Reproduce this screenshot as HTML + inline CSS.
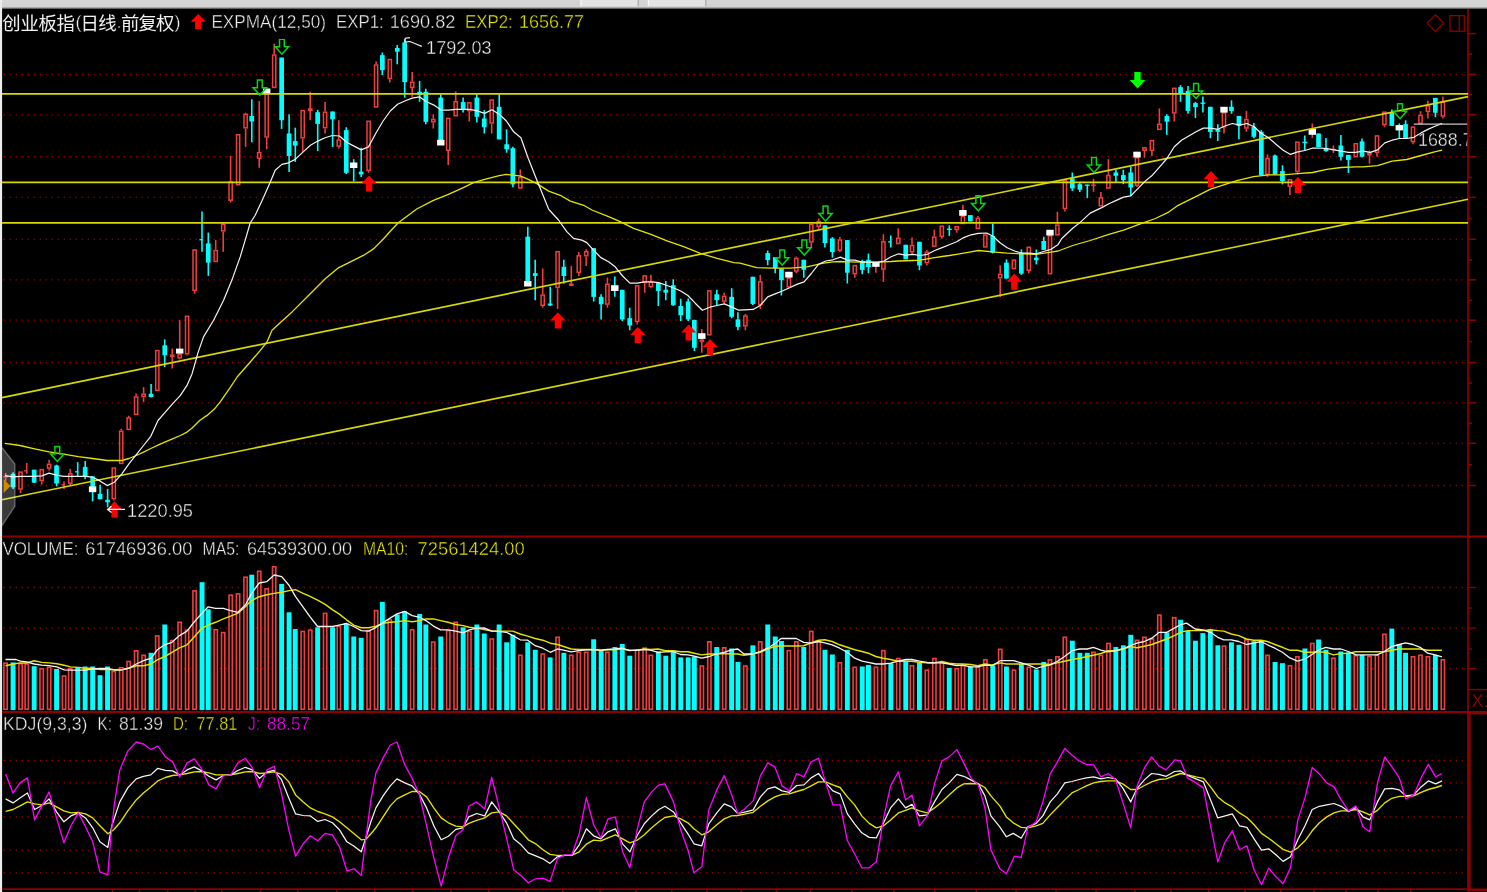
<!DOCTYPE html>
<html><head><meta charset="utf-8"><title>chart</title>
<style>html,body{margin:0;padding:0;background:#000;overflow:hidden;width:1487px;height:892px}svg{display:block;font-family:"Liberation Sans",sans-serif}</style>
</head><body>
<div style="width:1487px;height:892px;overflow:hidden;background:#000"><svg style="filter:blur(0.35px);will-change:transform" width="1487" height="892" viewBox="0 0 1487 892" shape-rendering="geometricPrecision">
<rect x="0" y="0" width="1487" height="892" fill="#000"/>
<defs><linearGradient id="tb" x1="0" y1="0" x2="0" y2="1"><stop offset="0" stop-color="#d6d6d6"/><stop offset="0.72" stop-color="#d2d2d2"/><stop offset="0.86" stop-color="#777"/><stop offset="1" stop-color="#000"/></linearGradient></defs>
<rect x="0" y="0" width="1487" height="9.6" fill="url(#tb)"/>
<rect x="581" y="0" width="57" height="6.2" fill="#e4e4e4"/><rect x="648.5" y="0" width="57" height="6.2" fill="#e4e4e4"/>
<rect x="580.3" y="0" width="1.2" height="6.2" fill="#f8f8f8"/><rect x="637.6" y="0" width="1.2" height="6.2" fill="#a8a8a8"/><rect x="647.8" y="0" width="1.2" height="6.2" fill="#f8f8f8"/><rect x="705.2" y="0" width="1.2" height="6.2" fill="#a8a8a8"/>
<rect x="0" y="0" width="2.1" height="892" fill="#ececec"/>
<line x1="3.6" y1="74.3" x2="1463" y2="74.3" stroke="#920000" stroke-width="1.3" stroke-dasharray="1.4 4.6"/>
<line x1="3.6" y1="114.8" x2="1463" y2="114.8" stroke="#920000" stroke-width="1.3" stroke-dasharray="1.4 4.6"/>
<line x1="3.6" y1="156.7" x2="1463" y2="156.7" stroke="#920000" stroke-width="1.3" stroke-dasharray="1.4 4.6"/>
<line x1="3.6" y1="197.4" x2="1463" y2="197.4" stroke="#920000" stroke-width="1.3" stroke-dasharray="1.4 4.6"/>
<line x1="3.6" y1="239.3" x2="1463" y2="239.3" stroke="#920000" stroke-width="1.3" stroke-dasharray="1.4 4.6"/>
<line x1="3.6" y1="279.8" x2="1463" y2="279.8" stroke="#920000" stroke-width="1.3" stroke-dasharray="1.4 4.6"/>
<line x1="3.6" y1="320.2" x2="1463" y2="320.2" stroke="#920000" stroke-width="1.3" stroke-dasharray="1.4 4.6"/>
<line x1="3.6" y1="362.5" x2="1463" y2="362.5" stroke="#920000" stroke-width="1.3" stroke-dasharray="1.4 4.6"/>
<line x1="3.6" y1="402.9" x2="1463" y2="402.9" stroke="#920000" stroke-width="1.3" stroke-dasharray="1.4 4.6"/>
<line x1="3.6" y1="443.3" x2="1463" y2="443.3" stroke="#920000" stroke-width="1.3" stroke-dasharray="1.4 4.6"/>
<line x1="3.6" y1="485.5" x2="1463" y2="485.5" stroke="#920000" stroke-width="1.3" stroke-dasharray="1.4 4.6"/>
<line x1="3.6" y1="587.5" x2="1463" y2="587.5" stroke="#920000" stroke-width="1.3" stroke-dasharray="1.4 4.6"/>
<line x1="3.6" y1="628.1" x2="1463" y2="628.1" stroke="#920000" stroke-width="1.3" stroke-dasharray="1.4 4.6"/>
<line x1="3.6" y1="668.5" x2="1463" y2="668.5" stroke="#920000" stroke-width="1.3" stroke-dasharray="1.4 4.6"/>
<line x1="3.6" y1="760.3" x2="1463" y2="760.3" stroke="#920000" stroke-width="1.3" stroke-dasharray="1.4 4.6"/>
<line x1="3.6" y1="782.9" x2="1463" y2="782.9" stroke="#920000" stroke-width="1.3" stroke-dasharray="1.4 4.6"/>
<line x1="3.6" y1="816.9" x2="1463" y2="816.9" stroke="#920000" stroke-width="1.3" stroke-dasharray="1.4 4.6"/>
<line x1="3.6" y1="850.2" x2="1463" y2="850.2" stroke="#920000" stroke-width="1.3" stroke-dasharray="1.4 4.6"/>
<line x1="3.6" y1="872.8" x2="1463" y2="872.8" stroke="#920000" stroke-width="1.3" stroke-dasharray="1.4 4.6"/>
<line x1="1468" y1="9" x2="1468" y2="892" stroke="#840000" stroke-width="1.8"/>
<line x1="2" y1="536.5" x2="1487" y2="536.5" stroke="#8c0000" stroke-width="1.8"/>
<line x1="2" y1="712" x2="1487" y2="712" stroke="#8c0000" stroke-width="1.8"/>
<line x1="2" y1="889.2" x2="1468" y2="889.2" stroke="#8c0000" stroke-width="1.8"/>
<line x1="1468" y1="33.6" x2="1476.2" y2="33.6" stroke="#8c0000" stroke-width="1.5"/>
<line x1="1468" y1="54.2" x2="1472.2" y2="54.2" stroke="#8c0000" stroke-width="1.5"/>
<line x1="1468" y1="74.3" x2="1476.2" y2="74.3" stroke="#8c0000" stroke-width="1.5"/>
<line x1="1468" y1="94.8" x2="1472.2" y2="94.8" stroke="#8c0000" stroke-width="1.5"/>
<line x1="1468" y1="114.8" x2="1476.2" y2="114.8" stroke="#8c0000" stroke-width="1.5"/>
<line x1="1468" y1="136.1" x2="1472.2" y2="136.1" stroke="#8c0000" stroke-width="1.5"/>
<line x1="1468" y1="156.7" x2="1476.2" y2="156.7" stroke="#8c0000" stroke-width="1.5"/>
<line x1="1468" y1="177.4" x2="1472.2" y2="177.4" stroke="#8c0000" stroke-width="1.5"/>
<line x1="1468" y1="197.4" x2="1476.2" y2="197.4" stroke="#8c0000" stroke-width="1.5"/>
<line x1="1468" y1="218.7" x2="1472.2" y2="218.7" stroke="#8c0000" stroke-width="1.5"/>
<line x1="1468" y1="239.3" x2="1476.2" y2="239.3" stroke="#8c0000" stroke-width="1.5"/>
<line x1="1468" y1="259.9" x2="1472.2" y2="259.9" stroke="#8c0000" stroke-width="1.5"/>
<line x1="1468" y1="279.8" x2="1476.2" y2="279.8" stroke="#8c0000" stroke-width="1.5"/>
<line x1="1468" y1="300.3" x2="1472.2" y2="300.3" stroke="#8c0000" stroke-width="1.5"/>
<line x1="1468" y1="320.2" x2="1476.2" y2="320.2" stroke="#8c0000" stroke-width="1.5"/>
<line x1="1468" y1="341.7" x2="1472.2" y2="341.7" stroke="#8c0000" stroke-width="1.5"/>
<line x1="1468" y1="362.5" x2="1476.2" y2="362.5" stroke="#8c0000" stroke-width="1.5"/>
<line x1="1468" y1="383" x2="1472.2" y2="383" stroke="#8c0000" stroke-width="1.5"/>
<line x1="1468" y1="402.9" x2="1476.2" y2="402.9" stroke="#8c0000" stroke-width="1.5"/>
<line x1="1468" y1="423.4" x2="1472.2" y2="423.4" stroke="#8c0000" stroke-width="1.5"/>
<line x1="1468" y1="443.3" x2="1476.2" y2="443.3" stroke="#8c0000" stroke-width="1.5"/>
<line x1="1468" y1="464.7" x2="1472.2" y2="464.7" stroke="#8c0000" stroke-width="1.5"/>
<line x1="1468" y1="485.5" x2="1476.2" y2="485.5" stroke="#8c0000" stroke-width="1.5"/>
<line x1="1468" y1="587.5" x2="1476" y2="587.5" stroke="#8c0000" stroke-width="1.3"/>
<line x1="1468" y1="608" x2="1472" y2="608" stroke="#8c0000" stroke-width="1.3"/>
<line x1="1468" y1="628.1" x2="1476" y2="628.1" stroke="#8c0000" stroke-width="1.3"/>
<line x1="1468" y1="649" x2="1472" y2="649" stroke="#8c0000" stroke-width="1.3"/>
<line x1="1468" y1="668.5" x2="1476" y2="668.5" stroke="#8c0000" stroke-width="1.3"/>
<line x1="1468" y1="689.6" x2="1487" y2="689.6" stroke="#8c0000" stroke-width="1.4"/>
<rect x="1469.4" y="713.1" width="22" height="176.6" fill="none" stroke="#8c0000" stroke-width="2.5"/>
<line x1="112.4" y1="889" x2="112.4" y2="892" stroke="#8c0000" stroke-width="1.3"/>
<line x1="139.4" y1="889" x2="139.4" y2="892" stroke="#8c0000" stroke-width="1.3"/>
<line x1="167.8" y1="889" x2="167.8" y2="892" stroke="#8c0000" stroke-width="1.3"/>
<line x1="195.1" y1="889" x2="195.1" y2="892" stroke="#8c0000" stroke-width="1.3"/>
<line x1="221.8" y1="889" x2="221.8" y2="892" stroke="#8c0000" stroke-width="1.3"/>
<line x1="260.2" y1="889" x2="260.2" y2="892" stroke="#8c0000" stroke-width="1.3"/>
<line x1="297.9" y1="889" x2="297.9" y2="892" stroke="#8c0000" stroke-width="1.3"/>
<line x1="336.9" y1="889" x2="336.9" y2="892" stroke="#8c0000" stroke-width="1.3"/>
<line x1="374.6" y1="889" x2="374.6" y2="892" stroke="#8c0000" stroke-width="1.3"/>
<line x1="412.6" y1="889" x2="412.6" y2="892" stroke="#8c0000" stroke-width="1.3"/>
<line x1="451" y1="889" x2="451" y2="892" stroke="#8c0000" stroke-width="1.3"/>
<line x1="488.7" y1="889" x2="488.7" y2="892" stroke="#8c0000" stroke-width="1.3"/>
<line x1="526" y1="889" x2="526" y2="892" stroke="#8c0000" stroke-width="1.3"/>
<line x1="562.7" y1="889" x2="562.7" y2="892" stroke="#8c0000" stroke-width="1.3"/>
<line x1="600" y1="889" x2="600" y2="892" stroke="#8c0000" stroke-width="1.3"/>
<line x1="636" y1="889" x2="636" y2="892" stroke="#8c0000" stroke-width="1.3"/>
<line x1="671.8" y1="889" x2="671.8" y2="892" stroke="#8c0000" stroke-width="1.3"/>
<line x1="706.8" y1="889" x2="706.8" y2="892" stroke="#8c0000" stroke-width="1.3"/>
<line x1="741.2" y1="889" x2="741.2" y2="892" stroke="#8c0000" stroke-width="1.3"/>
<line x1="776.2" y1="889" x2="776.2" y2="892" stroke="#8c0000" stroke-width="1.3"/>
<line x1="810.2" y1="889" x2="810.2" y2="892" stroke="#8c0000" stroke-width="1.3"/>
<line x1="851.9" y1="889" x2="851.9" y2="892" stroke="#8c0000" stroke-width="1.3"/>
<line x1="893.9" y1="889" x2="893.9" y2="892" stroke="#8c0000" stroke-width="1.3"/>
<line x1="934.6" y1="889" x2="934.6" y2="892" stroke="#8c0000" stroke-width="1.3"/>
<line x1="976.3" y1="889" x2="976.3" y2="892" stroke="#8c0000" stroke-width="1.3"/>
<line x1="1016" y1="889" x2="1016" y2="892" stroke="#8c0000" stroke-width="1.3"/>
<line x1="1056" y1="889" x2="1056" y2="892" stroke="#8c0000" stroke-width="1.3"/>
<line x1="1096" y1="889" x2="1096" y2="892" stroke="#8c0000" stroke-width="1.3"/>
<line x1="1135" y1="889" x2="1135" y2="892" stroke="#8c0000" stroke-width="1.3"/>
<line x1="1171" y1="889" x2="1171" y2="892" stroke="#8c0000" stroke-width="1.3"/>
<line x1="1208.5" y1="889" x2="1208.5" y2="892" stroke="#8c0000" stroke-width="1.3"/>
<line x1="1245" y1="889" x2="1245" y2="892" stroke="#8c0000" stroke-width="1.3"/>
<line x1="1280.5" y1="889" x2="1280.5" y2="892" stroke="#8c0000" stroke-width="1.3"/>
<line x1="1314" y1="889" x2="1314" y2="892" stroke="#8c0000" stroke-width="1.3"/>
<line x1="1346" y1="889" x2="1346" y2="892" stroke="#8c0000" stroke-width="1.3"/>
<line x1="1378" y1="889" x2="1378" y2="892" stroke="#8c0000" stroke-width="1.3"/>
<line x1="1410.6" y1="889" x2="1410.6" y2="892" stroke="#8c0000" stroke-width="1.3"/>
<path d="M1435.4 14.8 L1443.6 23.1 L1435.4 31.4 L1427.2 23.1 Z" fill="none" stroke="#8c0000" stroke-width="1.3"/>
<rect x="1450" y="15.6" width="14.3" height="15.6" fill="none" stroke="#8c0000" stroke-width="1.3"/>
<line x1="1459.3" y1="15.6" x2="1459.3" y2="31.2" stroke="#8c0000" stroke-width="1.3"/>
<line x1="5.6" y1="473" x2="5.6" y2="476" stroke="#f03e3e" stroke-width="1.6"/>
<line x1="5.6" y1="477.5" x2="5.6" y2="481" stroke="#f03e3e" stroke-width="1.6"/>
<rect x="3.2" y="476" width="4.7" height="1.5" fill="#f03e3e"/>
<line x1="13.1" y1="472.2" x2="13.1" y2="488.9" stroke="#00ffff" stroke-width="1.6"/>
<rect x="10.7" y="473.9" width="4.7" height="13.4" fill="#00ffff"/>
<line x1="20.5" y1="489.8" x2="20.5" y2="493.1" stroke="#f03e3e" stroke-width="1.6"/>
<rect x="18.9" y="472.1" width="3.2" height="16.9" fill="#000" stroke="#f03e3e" stroke-width="1.5"/>
<line x1="26.7" y1="463" x2="26.7" y2="473.9" stroke="#f03e3e" stroke-width="1.6"/>
<line x1="24.1" y1="470.8" x2="27.3" y2="470.8" stroke="#f03e3e" stroke-width="1.4"/>
<line x1="34.2" y1="469.7" x2="34.2" y2="483.1" stroke="#00ffff" stroke-width="1.6"/>
<rect x="31.8" y="469.7" width="4.7" height="12.9" fill="#00ffff"/>
<line x1="41.7" y1="481.4" x2="41.7" y2="484.7" stroke="#f03e3e" stroke-width="1.6"/>
<rect x="40.1" y="469.6" width="3.2" height="11" fill="#000" stroke="#f03e3e" stroke-width="1.5"/>
<line x1="49.1" y1="459.7" x2="49.1" y2="463.5" stroke="#f03e3e" stroke-width="1.6"/>
<line x1="49.1" y1="468.9" x2="49.1" y2="470.6" stroke="#f03e3e" stroke-width="1.6"/>
<rect x="47.5" y="464.3" width="3.2" height="3.8" fill="#000" stroke="#f03e3e" stroke-width="1.5"/>
<line x1="56.6" y1="464.7" x2="56.6" y2="486.4" stroke="#00ffff" stroke-width="1.6"/>
<rect x="54.2" y="465.5" width="4.7" height="18" fill="#00ffff"/>
<line x1="64" y1="481.4" x2="64" y2="488.9" stroke="#f03e3e" stroke-width="1.6"/>
<line x1="61.4" y1="484.8" x2="64.6" y2="484.8" stroke="#f03e3e" stroke-width="1.4"/>
<line x1="70.3" y1="468.9" x2="70.3" y2="473.1" stroke="#f03e3e" stroke-width="1.6"/>
<line x1="70.3" y1="483.9" x2="70.3" y2="485.6" stroke="#f03e3e" stroke-width="1.6"/>
<rect x="68.7" y="473.8" width="3.2" height="9.4" fill="#000" stroke="#f03e3e" stroke-width="1.5"/>
<line x1="77.7" y1="462.2" x2="77.7" y2="476.4" stroke="#00ffff" stroke-width="1.6"/>
<line x1="75.1" y1="471.8" x2="78.3" y2="471.8" stroke="#00ffff" stroke-width="1.4"/>
<line x1="85.2" y1="460.9" x2="85.2" y2="478.9" stroke="#00ffff" stroke-width="1.6"/>
<rect x="82.8" y="466.9" width="4.7" height="9.5" fill="#00ffff"/>
<line x1="92.6" y1="476.4" x2="92.6" y2="501.4" stroke="#00ffff" stroke-width="1.6"/>
<rect x="90.3" y="476.4" width="4.7" height="12.5" fill="#00ffff"/>
<line x1="100.1" y1="484.7" x2="100.1" y2="499.3" stroke="#00ffff" stroke-width="1.6"/>
<rect x="97.7" y="493.9" width="4.7" height="5.3" fill="#00ffff"/>
<line x1="107.6" y1="488.9" x2="107.6" y2="507.3" stroke="#00ffff" stroke-width="1.6"/>
<rect x="105.2" y="499.8" width="4.7" height="2.5" fill="#00ffff"/>
<line x1="113.8" y1="499.3" x2="113.8" y2="500.6" stroke="#f03e3e" stroke-width="1.6"/>
<rect x="112.2" y="468" width="3.2" height="30.6" fill="#000" stroke="#f03e3e" stroke-width="1.5"/>
<line x1="121.2" y1="428.8" x2="121.2" y2="430.5" stroke="#f03e3e" stroke-width="1.6"/>
<rect x="119.6" y="431.2" width="3.2" height="32.2" fill="#000" stroke="#f03e3e" stroke-width="1.5"/>
<line x1="128.7" y1="415.8" x2="128.7" y2="417.1" stroke="#f03e3e" stroke-width="1.6"/>
<rect x="127.1" y="417.9" width="3.2" height="11.5" fill="#000" stroke="#f03e3e" stroke-width="1.5"/>
<line x1="136.1" y1="393.4" x2="136.1" y2="396.2" stroke="#f03e3e" stroke-width="1.6"/>
<rect x="134.5" y="397" width="3.2" height="17.4" fill="#000" stroke="#f03e3e" stroke-width="1.5"/>
<line x1="143.6" y1="387.1" x2="143.6" y2="393.4" stroke="#f03e3e" stroke-width="1.6"/>
<line x1="143.6" y1="397.4" x2="143.6" y2="402.1" stroke="#f03e3e" stroke-width="1.6"/>
<rect x="142" y="394.1" width="3.2" height="2.5" fill="#000" stroke="#f03e3e" stroke-width="1.5"/>
<line x1="151.1" y1="384" x2="151.1" y2="397.4" stroke="#00ffff" stroke-width="1.6"/>
<rect x="148.7" y="393.7" width="4.7" height="3.3" fill="#00ffff"/>
<rect x="155.7" y="350.6" width="3.2" height="39.8" fill="#000" stroke="#f03e3e" stroke-width="1.5"/>
<line x1="164.7" y1="339.4" x2="164.7" y2="367" stroke="#00ffff" stroke-width="1.6"/>
<rect x="162.4" y="345.3" width="4.7" height="10" fill="#00ffff"/>
<line x1="172.2" y1="348.6" x2="172.2" y2="354.4" stroke="#f03e3e" stroke-width="1.6"/>
<line x1="172.2" y1="356.9" x2="172.2" y2="368.6" stroke="#f03e3e" stroke-width="1.6"/>
<rect x="169.9" y="354.4" width="4.7" height="2.5" fill="#f03e3e"/>
<line x1="179.7" y1="320.2" x2="179.7" y2="353.6" stroke="#f03e3e" stroke-width="1.6"/>
<line x1="179.7" y1="358.6" x2="179.7" y2="359.4" stroke="#f03e3e" stroke-width="1.6"/>
<rect x="178.1" y="354.4" width="3.2" height="3.5" fill="#000" stroke="#f03e3e" stroke-width="1.5"/>
<line x1="187.1" y1="354.4" x2="187.1" y2="355.6" stroke="#f03e3e" stroke-width="1.6"/>
<rect x="185.5" y="316.3" width="3.2" height="37.4" fill="#000" stroke="#f03e3e" stroke-width="1.5"/>
<line x1="194.6" y1="291" x2="194.6" y2="293.8" stroke="#f03e3e" stroke-width="1.6"/>
<rect x="193" y="250" width="3.2" height="40.3" fill="#000" stroke="#f03e3e" stroke-width="1.5"/>
<line x1="202" y1="211.5" x2="202" y2="251.8" stroke="#00ffff" stroke-width="1.6"/>
<line x1="199.4" y1="239.7" x2="202.6" y2="239.7" stroke="#00ffff" stroke-width="1.4"/>
<line x1="208.3" y1="232.5" x2="208.3" y2="275.9" stroke="#00ffff" stroke-width="1.6"/>
<rect x="205.9" y="243.4" width="4.7" height="19.2" fill="#00ffff"/>
<line x1="215.7" y1="240" x2="215.7" y2="249.7" stroke="#f03e3e" stroke-width="1.6"/>
<rect x="214.1" y="250.5" width="3.2" height="10.9" fill="#000" stroke="#f03e3e" stroke-width="1.5"/>
<line x1="223.2" y1="223" x2="223.2" y2="223.7" stroke="#f03e3e" stroke-width="1.6"/>
<line x1="223.2" y1="231.7" x2="223.2" y2="251.7" stroke="#f03e3e" stroke-width="1.6"/>
<rect x="221.6" y="224.4" width="3.2" height="6.5" fill="#000" stroke="#f03e3e" stroke-width="1.5"/>
<line x1="230.6" y1="155.9" x2="230.6" y2="180.9" stroke="#f03e3e" stroke-width="1.6"/>
<line x1="230.6" y1="201" x2="230.6" y2="202.6" stroke="#f03e3e" stroke-width="1.6"/>
<rect x="229" y="181.7" width="3.2" height="18.5" fill="#000" stroke="#f03e3e" stroke-width="1.5"/>
<rect x="236.5" y="134.7" width="3.2" height="50" fill="#000" stroke="#f03e3e" stroke-width="1.5"/>
<line x1="245.6" y1="112.7" x2="245.6" y2="113.5" stroke="#f03e3e" stroke-width="1.6"/>
<line x1="245.6" y1="128.5" x2="245.6" y2="146.9" stroke="#f03e3e" stroke-width="1.6"/>
<rect x="244" y="114.3" width="3.2" height="13.5" fill="#000" stroke="#f03e3e" stroke-width="1.5"/>
<line x1="251.8" y1="99.3" x2="251.8" y2="142.2" stroke="#00ffff" stroke-width="1.6"/>
<rect x="249.4" y="116" width="4.7" height="5.5" fill="#00ffff"/>
<line x1="259.2" y1="101" x2="259.2" y2="151.9" stroke="#f03e3e" stroke-width="1.6"/>
<line x1="259.2" y1="158.9" x2="259.2" y2="167.8" stroke="#f03e3e" stroke-width="1.6"/>
<rect x="257.6" y="152.7" width="3.2" height="5.5" fill="#000" stroke="#f03e3e" stroke-width="1.5"/>
<line x1="266.7" y1="137.7" x2="266.7" y2="149.4" stroke="#f03e3e" stroke-width="1.6"/>
<rect x="265.1" y="94.2" width="3.2" height="42.8" fill="#000" stroke="#f03e3e" stroke-width="1.5"/>
<line x1="274.2" y1="43.7" x2="274.2" y2="54.2" stroke="#f03e3e" stroke-width="1.6"/>
<rect x="272.6" y="55" width="3.2" height="32.4" fill="#000" stroke="#f03e3e" stroke-width="1.5"/>
<line x1="281.6" y1="57.6" x2="281.6" y2="128.9" stroke="#00ffff" stroke-width="1.6"/>
<rect x="279.3" y="57.6" width="4.7" height="62.6" fill="#00ffff"/>
<line x1="289.1" y1="114.3" x2="289.1" y2="172" stroke="#00ffff" stroke-width="1.6"/>
<rect x="286.7" y="133.5" width="4.7" height="22.5" fill="#00ffff"/>
<line x1="295.3" y1="127.7" x2="295.3" y2="161.9" stroke="#00ffff" stroke-width="1.6"/>
<rect x="292.9" y="141.1" width="4.7" height="4.5" fill="#00ffff"/>
<line x1="302.7" y1="138.6" x2="302.7" y2="151.9" stroke="#f03e3e" stroke-width="1.6"/>
<rect x="301.1" y="110.6" width="3.2" height="27.2" fill="#000" stroke="#f03e3e" stroke-width="1.5"/>
<line x1="310.2" y1="91.8" x2="310.2" y2="120.2" stroke="#f03e3e" stroke-width="1.6"/>
<rect x="307.9" y="108.2" width="4.7" height="2.8" fill="#f03e3e"/>
<line x1="317.7" y1="109.8" x2="317.7" y2="151.1" stroke="#00ffff" stroke-width="1.6"/>
<rect x="315.3" y="112.2" width="4.7" height="11.7" fill="#00ffff"/>
<line x1="325.1" y1="102.1" x2="325.1" y2="111.5" stroke="#f03e3e" stroke-width="1.6"/>
<line x1="325.1" y1="128.5" x2="325.1" y2="133.5" stroke="#f03e3e" stroke-width="1.6"/>
<rect x="323.5" y="112.2" width="3.2" height="15.5" fill="#000" stroke="#f03e3e" stroke-width="1.5"/>
<line x1="332.6" y1="111.5" x2="332.6" y2="146.9" stroke="#00ffff" stroke-width="1.6"/>
<rect x="330.2" y="111.5" width="4.7" height="7.8" fill="#00ffff"/>
<line x1="338.8" y1="120.2" x2="338.8" y2="139.4" stroke="#f03e3e" stroke-width="1.6"/>
<line x1="338.8" y1="146.9" x2="338.8" y2="148.6" stroke="#f03e3e" stroke-width="1.6"/>
<rect x="337.2" y="140.1" width="3.2" height="6" fill="#000" stroke="#f03e3e" stroke-width="1.5"/>
<line x1="346.3" y1="127.2" x2="346.3" y2="174" stroke="#00ffff" stroke-width="1.6"/>
<rect x="343.9" y="130.2" width="4.7" height="42.6" fill="#00ffff"/>
<line x1="353.7" y1="159.2" x2="353.7" y2="181.4" stroke="#00ffff" stroke-width="1.6"/>
<rect x="351.4" y="163.4" width="4.7" height="4.2" fill="#00ffff"/>
<line x1="361.2" y1="147.7" x2="361.2" y2="177" stroke="#00ffff" stroke-width="1.6"/>
<rect x="358.8" y="171.6" width="4.7" height="2.8" fill="#00ffff"/>
<line x1="368.6" y1="171.1" x2="368.6" y2="172.8" stroke="#f03e3e" stroke-width="1.6"/>
<rect x="367" y="121.3" width="3.2" height="49.1" fill="#000" stroke="#f03e3e" stroke-width="1.5"/>
<line x1="376.1" y1="61.4" x2="376.1" y2="64.2" stroke="#f03e3e" stroke-width="1.6"/>
<rect x="374.5" y="65" width="3.2" height="41.9" fill="#000" stroke="#f03e3e" stroke-width="1.5"/>
<line x1="382.3" y1="52.5" x2="382.3" y2="75.1" stroke="#00ffff" stroke-width="1.6"/>
<rect x="380" y="55.1" width="4.7" height="15" fill="#00ffff"/>
<line x1="389.8" y1="79.3" x2="389.8" y2="82.6" stroke="#f03e3e" stroke-width="1.6"/>
<rect x="388.2" y="59.5" width="3.2" height="19" fill="#000" stroke="#f03e3e" stroke-width="1.5"/>
<line x1="397.2" y1="45" x2="397.2" y2="64.2" stroke="#00ffff" stroke-width="1.6"/>
<rect x="394.9" y="48" width="4.7" height="3.7" fill="#00ffff"/>
<line x1="404.7" y1="39.2" x2="404.7" y2="97.6" stroke="#00ffff" stroke-width="1.6"/>
<rect x="402.3" y="42.5" width="4.7" height="39.6" fill="#00ffff"/>
<line x1="412.2" y1="72.1" x2="412.2" y2="81.4" stroke="#f03e3e" stroke-width="1.6"/>
<line x1="412.2" y1="88.1" x2="412.2" y2="96.8" stroke="#f03e3e" stroke-width="1.6"/>
<rect x="410.6" y="82.2" width="3.2" height="5.2" fill="#000" stroke="#f03e3e" stroke-width="1.5"/>
<line x1="419.6" y1="80.9" x2="419.6" y2="101.8" stroke="#00ffff" stroke-width="1.6"/>
<rect x="417.3" y="91.8" width="4.7" height="3.3" fill="#00ffff"/>
<line x1="425.8" y1="88.7" x2="425.8" y2="124.3" stroke="#00ffff" stroke-width="1.6"/>
<rect x="423.5" y="91.7" width="4.7" height="30.1" fill="#00ffff"/>
<line x1="433.3" y1="114.3" x2="433.3" y2="118.8" stroke="#f03e3e" stroke-width="1.6"/>
<line x1="433.3" y1="122.6" x2="433.3" y2="128.5" stroke="#f03e3e" stroke-width="1.6"/>
<rect x="431.7" y="119.5" width="3.2" height="2.3" fill="#000" stroke="#f03e3e" stroke-width="1.5"/>
<line x1="440.8" y1="94.2" x2="440.8" y2="140.2" stroke="#00ffff" stroke-width="1.6"/>
<rect x="438.4" y="97.6" width="4.7" height="42.6" fill="#00ffff"/>
<line x1="448.2" y1="151" x2="448.2" y2="164.9" stroke="#f03e3e" stroke-width="1.6"/>
<rect x="446.6" y="118.4" width="3.2" height="31.9" fill="#000" stroke="#f03e3e" stroke-width="1.5"/>
<line x1="455.7" y1="91.4" x2="455.7" y2="100.9" stroke="#f03e3e" stroke-width="1.6"/>
<rect x="454.1" y="101.7" width="3.2" height="14" fill="#000" stroke="#f03e3e" stroke-width="1.5"/>
<line x1="463.1" y1="97.6" x2="463.1" y2="112.6" stroke="#00ffff" stroke-width="1.6"/>
<rect x="460.8" y="102.1" width="4.7" height="8" fill="#00ffff"/>
<line x1="469.3" y1="111.4" x2="469.3" y2="121.5" stroke="#f03e3e" stroke-width="1.6"/>
<rect x="467.7" y="102.8" width="3.2" height="7.9" fill="#000" stroke="#f03e3e" stroke-width="1.5"/>
<line x1="476.8" y1="94.2" x2="476.8" y2="122.6" stroke="#00ffff" stroke-width="1.6"/>
<rect x="474.5" y="97.6" width="4.7" height="19.2" fill="#00ffff"/>
<line x1="484.3" y1="110.1" x2="484.3" y2="133.5" stroke="#00ffff" stroke-width="1.6"/>
<rect x="481.9" y="118.5" width="4.7" height="8.7" fill="#00ffff"/>
<line x1="491.7" y1="123.8" x2="491.7" y2="133.5" stroke="#f03e3e" stroke-width="1.6"/>
<rect x="490.1" y="100" width="3.2" height="23" fill="#000" stroke="#f03e3e" stroke-width="1.5"/>
<line x1="499.2" y1="94.2" x2="499.2" y2="139.3" stroke="#00ffff" stroke-width="1.6"/>
<rect x="496.8" y="106.8" width="4.7" height="32.6" fill="#00ffff"/>
<line x1="506.6" y1="129.3" x2="506.6" y2="152.7" stroke="#00ffff" stroke-width="1.6"/>
<rect x="504.3" y="144.3" width="4.7" height="5" fill="#00ffff"/>
<line x1="512.9" y1="146.8" x2="512.9" y2="187.3" stroke="#00ffff" stroke-width="1.6"/>
<rect x="510.5" y="148.2" width="4.7" height="36.2" fill="#00ffff"/>
<line x1="520.3" y1="169.4" x2="520.3" y2="176.9" stroke="#f03e3e" stroke-width="1.6"/>
<rect x="518.7" y="177.7" width="3.2" height="10.2" fill="#000" stroke="#f03e3e" stroke-width="1.5"/>
<line x1="527.8" y1="226.7" x2="527.8" y2="283.5" stroke="#00ffff" stroke-width="1.6"/>
<rect x="525.4" y="236.7" width="4.7" height="46.8" fill="#00ffff"/>
<line x1="535.2" y1="259.8" x2="535.2" y2="300.2" stroke="#00ffff" stroke-width="1.6"/>
<rect x="532.9" y="273.1" width="4.7" height="2.8" fill="#00ffff"/>
<line x1="542.7" y1="268.5" x2="542.7" y2="294.3" stroke="#f03e3e" stroke-width="1.6"/>
<line x1="542.7" y1="306" x2="542.7" y2="307.7" stroke="#f03e3e" stroke-width="1.6"/>
<rect x="541.1" y="295.1" width="3.2" height="10.2" fill="#000" stroke="#f03e3e" stroke-width="1.5"/>
<line x1="550.2" y1="286.8" x2="550.2" y2="306" stroke="#00ffff" stroke-width="1.6"/>
<rect x="547.8" y="303.5" width="4.7" height="2" fill="#00ffff"/>
<line x1="557.6" y1="288.2" x2="557.6" y2="308.9" stroke="#f03e3e" stroke-width="1.6"/>
<rect x="556" y="251.7" width="3.2" height="35.7" fill="#000" stroke="#f03e3e" stroke-width="1.5"/>
<line x1="563.8" y1="259.8" x2="563.8" y2="283.5" stroke="#00ffff" stroke-width="1.6"/>
<rect x="561.5" y="266.8" width="4.7" height="9.2" fill="#00ffff"/>
<line x1="571.3" y1="265.9" x2="571.3" y2="286" stroke="#f03e3e" stroke-width="1.6"/>
<rect x="568.9" y="283.5" width="4.7" height="2.5" fill="#f03e3e"/>
<line x1="578.8" y1="252.1" x2="578.8" y2="255.1" stroke="#f03e3e" stroke-width="1.6"/>
<line x1="578.8" y1="273.1" x2="578.8" y2="276" stroke="#f03e3e" stroke-width="1.6"/>
<rect x="577.2" y="255.8" width="3.2" height="16.5" fill="#000" stroke="#f03e3e" stroke-width="1.5"/>
<line x1="586.2" y1="249.2" x2="586.2" y2="250.9" stroke="#f03e3e" stroke-width="1.6"/>
<line x1="586.2" y1="256.4" x2="586.2" y2="265.9" stroke="#f03e3e" stroke-width="1.6"/>
<rect x="584.6" y="251.7" width="3.2" height="4" fill="#000" stroke="#f03e3e" stroke-width="1.5"/>
<line x1="593.7" y1="248.1" x2="593.7" y2="301.5" stroke="#00ffff" stroke-width="1.6"/>
<rect x="591.3" y="248.1" width="4.7" height="48.8" fill="#00ffff"/>
<line x1="601.1" y1="294.3" x2="601.1" y2="319.4" stroke="#00ffff" stroke-width="1.6"/>
<rect x="598.8" y="296.8" width="4.7" height="7.5" fill="#00ffff"/>
<line x1="607.4" y1="277.6" x2="607.4" y2="283.5" stroke="#f03e3e" stroke-width="1.6"/>
<line x1="607.4" y1="304.9" x2="607.4" y2="307.7" stroke="#f03e3e" stroke-width="1.6"/>
<rect x="605.8" y="284.2" width="3.2" height="19.9" fill="#000" stroke="#f03e3e" stroke-width="1.5"/>
<line x1="614.8" y1="276.5" x2="614.8" y2="296.8" stroke="#00ffff" stroke-width="1.6"/>
<rect x="612.5" y="286" width="4.7" height="4.2" fill="#00ffff"/>
<line x1="622.3" y1="289.8" x2="622.3" y2="321.1" stroke="#00ffff" stroke-width="1.6"/>
<rect x="619.9" y="289.8" width="4.7" height="29.6" fill="#00ffff"/>
<line x1="629.7" y1="307.7" x2="629.7" y2="330.2" stroke="#00ffff" stroke-width="1.6"/>
<rect x="627.4" y="318.2" width="4.7" height="7.3" fill="#00ffff"/>
<line x1="637.2" y1="322.2" x2="637.2" y2="324.4" stroke="#f03e3e" stroke-width="1.6"/>
<rect x="635.6" y="285.9" width="3.2" height="35.6" fill="#000" stroke="#f03e3e" stroke-width="1.5"/>
<line x1="644.7" y1="283.1" x2="644.7" y2="292.7" stroke="#f03e3e" stroke-width="1.6"/>
<rect x="643.1" y="275.9" width="3.2" height="6.5" fill="#000" stroke="#f03e3e" stroke-width="1.5"/>
<line x1="650.9" y1="274.8" x2="650.9" y2="281.5" stroke="#f03e3e" stroke-width="1.6"/>
<line x1="650.9" y1="287.2" x2="650.9" y2="288.2" stroke="#f03e3e" stroke-width="1.6"/>
<rect x="649.3" y="282.2" width="3.2" height="4.2" fill="#000" stroke="#f03e3e" stroke-width="1.5"/>
<line x1="658.3" y1="283.1" x2="658.3" y2="306" stroke="#00ffff" stroke-width="1.6"/>
<rect x="656" y="283.1" width="4.7" height="7.8" fill="#00ffff"/>
<line x1="665.8" y1="281" x2="665.8" y2="300.2" stroke="#00ffff" stroke-width="1.6"/>
<rect x="663.4" y="289.8" width="4.7" height="2.8" fill="#00ffff"/>
<line x1="673.2" y1="279.3" x2="673.2" y2="306" stroke="#00ffff" stroke-width="1.6"/>
<rect x="670.9" y="285.2" width="4.7" height="20" fill="#00ffff"/>
<line x1="680.7" y1="298.8" x2="680.7" y2="321.1" stroke="#00ffff" stroke-width="1.6"/>
<rect x="678.4" y="306" width="4.7" height="9.2" fill="#00ffff"/>
<line x1="688.2" y1="298.5" x2="688.2" y2="321.1" stroke="#00ffff" stroke-width="1.6"/>
<rect x="685.8" y="301.5" width="4.7" height="17.9" fill="#00ffff"/>
<line x1="694.4" y1="319.9" x2="694.4" y2="351.1" stroke="#00ffff" stroke-width="1.6"/>
<rect x="692" y="319.9" width="4.7" height="27.9" fill="#00ffff"/>
<line x1="701.8" y1="328.9" x2="701.8" y2="339.4" stroke="#f03e3e" stroke-width="1.6"/>
<line x1="701.8" y1="341.9" x2="701.8" y2="352.8" stroke="#f03e3e" stroke-width="1.6"/>
<rect x="699.5" y="339.4" width="4.7" height="2.5" fill="#f03e3e"/>
<rect x="707.7" y="290.9" width="3.2" height="43.9" fill="#000" stroke="#f03e3e" stroke-width="1.5"/>
<line x1="716.8" y1="289.8" x2="716.8" y2="305.2" stroke="#00ffff" stroke-width="1.6"/>
<rect x="714.4" y="294.3" width="4.7" height="5.8" fill="#00ffff"/>
<line x1="724.2" y1="292.7" x2="724.2" y2="295.5" stroke="#f03e3e" stroke-width="1.6"/>
<line x1="724.2" y1="301.9" x2="724.2" y2="303.5" stroke="#f03e3e" stroke-width="1.6"/>
<rect x="722.6" y="296.3" width="3.2" height="4.8" fill="#000" stroke="#f03e3e" stroke-width="1.5"/>
<line x1="731.7" y1="288.2" x2="731.7" y2="318.2" stroke="#00ffff" stroke-width="1.6"/>
<rect x="729.3" y="296.8" width="4.7" height="20" fill="#00ffff"/>
<line x1="737.9" y1="312.2" x2="737.9" y2="330.2" stroke="#00ffff" stroke-width="1.6"/>
<rect x="735.6" y="319.4" width="4.7" height="7.5" fill="#00ffff"/>
<line x1="745.4" y1="313.9" x2="745.4" y2="315.3" stroke="#f03e3e" stroke-width="1.6"/>
<line x1="745.4" y1="326.6" x2="745.4" y2="330.3" stroke="#f03e3e" stroke-width="1.6"/>
<rect x="743.8" y="316" width="3.2" height="9.9" fill="#000" stroke="#f03e3e" stroke-width="1.5"/>
<line x1="752.8" y1="276.8" x2="752.8" y2="304.9" stroke="#00ffff" stroke-width="1.6"/>
<rect x="750.5" y="276.8" width="4.7" height="27.1" fill="#00ffff"/>
<line x1="760.3" y1="274.8" x2="760.3" y2="281" stroke="#f03e3e" stroke-width="1.6"/>
<line x1="760.3" y1="305.2" x2="760.3" y2="308.9" stroke="#f03e3e" stroke-width="1.6"/>
<rect x="758.7" y="281.8" width="3.2" height="22.7" fill="#000" stroke="#f03e3e" stroke-width="1.5"/>
<line x1="767.7" y1="250.5" x2="767.7" y2="265.2" stroke="#00ffff" stroke-width="1.6"/>
<rect x="765.4" y="253.1" width="4.7" height="7" fill="#00ffff"/>
<line x1="775.2" y1="257.1" x2="775.2" y2="273.2" stroke="#00ffff" stroke-width="1.6"/>
<rect x="772.9" y="257.1" width="4.7" height="11" fill="#00ffff"/>
<line x1="781.4" y1="268.5" x2="781.4" y2="295.5" stroke="#00ffff" stroke-width="1.6"/>
<rect x="779.1" y="268.5" width="4.7" height="11.7" fill="#00ffff"/>
<line x1="788.9" y1="271.8" x2="788.9" y2="277.7" stroke="#f03e3e" stroke-width="1.6"/>
<rect x="787.3" y="278.4" width="3.2" height="8.5" fill="#000" stroke="#f03e3e" stroke-width="1.5"/>
<line x1="796.3" y1="256.5" x2="796.3" y2="257.6" stroke="#f03e3e" stroke-width="1.6"/>
<line x1="796.3" y1="271.8" x2="796.3" y2="273.2" stroke="#f03e3e" stroke-width="1.6"/>
<rect x="794.7" y="258.4" width="3.2" height="12.7" fill="#000" stroke="#f03e3e" stroke-width="1.5"/>
<line x1="803.8" y1="259.8" x2="803.8" y2="277.7" stroke="#00ffff" stroke-width="1.6"/>
<rect x="801.4" y="259.8" width="4.7" height="10" fill="#00ffff"/>
<line x1="811.3" y1="242.6" x2="811.3" y2="247.6" stroke="#f03e3e" stroke-width="1.6"/>
<rect x="809.7" y="224.5" width="3.2" height="17.4" fill="#000" stroke="#f03e3e" stroke-width="1.5"/>
<line x1="818.7" y1="218.4" x2="818.7" y2="220.9" stroke="#f03e3e" stroke-width="1.6"/>
<line x1="818.7" y1="227.1" x2="818.7" y2="229.2" stroke="#f03e3e" stroke-width="1.6"/>
<rect x="817.1" y="221.6" width="3.2" height="4.7" fill="#000" stroke="#f03e3e" stroke-width="1.5"/>
<line x1="824.9" y1="225.4" x2="824.9" y2="247.6" stroke="#00ffff" stroke-width="1.6"/>
<rect x="822.6" y="225.4" width="4.7" height="17.7" fill="#00ffff"/>
<line x1="832.4" y1="237.1" x2="832.4" y2="257.6" stroke="#00ffff" stroke-width="1.6"/>
<rect x="830" y="238.4" width="4.7" height="13.7" fill="#00ffff"/>
<line x1="839.9" y1="237.1" x2="839.9" y2="239.3" stroke="#f03e3e" stroke-width="1.6"/>
<line x1="839.9" y1="251" x2="839.9" y2="252.1" stroke="#f03e3e" stroke-width="1.6"/>
<rect x="838.3" y="240" width="3.2" height="10.2" fill="#000" stroke="#f03e3e" stroke-width="1.5"/>
<line x1="847.3" y1="240.1" x2="847.3" y2="283.5" stroke="#00ffff" stroke-width="1.6"/>
<rect x="845" y="240.1" width="4.7" height="32.6" fill="#00ffff"/>
<line x1="854.8" y1="274.3" x2="854.8" y2="277.7" stroke="#f03e3e" stroke-width="1.6"/>
<rect x="853.2" y="265.6" width="3.2" height="8" fill="#000" stroke="#f03e3e" stroke-width="1.5"/>
<line x1="862.2" y1="259.8" x2="862.2" y2="274.3" stroke="#00ffff" stroke-width="1.6"/>
<rect x="859.9" y="261" width="4.7" height="8.9" fill="#00ffff"/>
<line x1="868.4" y1="253.5" x2="868.4" y2="273.2" stroke="#00ffff" stroke-width="1.6"/>
<rect x="866.1" y="259.8" width="4.7" height="7.3" fill="#00ffff"/>
<line x1="875.9" y1="261.8" x2="875.9" y2="263.5" stroke="#f03e3e" stroke-width="1.6"/>
<line x1="875.9" y1="266" x2="875.9" y2="272.7" stroke="#f03e3e" stroke-width="1.6"/>
<rect x="873.6" y="263.5" width="4.7" height="2.5" fill="#f03e3e"/>
<line x1="883.4" y1="234.3" x2="883.4" y2="240.9" stroke="#f03e3e" stroke-width="1.6"/>
<line x1="883.4" y1="269.8" x2="883.4" y2="281.9" stroke="#f03e3e" stroke-width="1.6"/>
<rect x="881.8" y="241.7" width="3.2" height="27.4" fill="#000" stroke="#f03e3e" stroke-width="1.5"/>
<line x1="890.8" y1="235.4" x2="890.8" y2="247.6" stroke="#00ffff" stroke-width="1.6"/>
<line x1="888.2" y1="241.9" x2="891.4" y2="241.9" stroke="#00ffff" stroke-width="1.4"/>
<line x1="898.3" y1="228.4" x2="898.3" y2="237.6" stroke="#f03e3e" stroke-width="1.6"/>
<rect x="896.7" y="238.3" width="3.2" height="5.2" fill="#000" stroke="#f03e3e" stroke-width="1.5"/>
<line x1="905.7" y1="244.8" x2="905.7" y2="259.3" stroke="#00ffff" stroke-width="1.6"/>
<rect x="903.4" y="244.8" width="4.7" height="14.5" fill="#00ffff"/>
<line x1="912" y1="237.6" x2="912" y2="244.8" stroke="#f03e3e" stroke-width="1.6"/>
<line x1="912" y1="252.6" x2="912" y2="254.3" stroke="#f03e3e" stroke-width="1.6"/>
<rect x="910.4" y="245.5" width="3.2" height="6.3" fill="#000" stroke="#f03e3e" stroke-width="1.5"/>
<line x1="919.4" y1="241.8" x2="919.4" y2="270.2" stroke="#00ffff" stroke-width="1.6"/>
<rect x="917.1" y="241.8" width="4.7" height="23.7" fill="#00ffff"/>
<line x1="926.9" y1="250.1" x2="926.9" y2="251.5" stroke="#f03e3e" stroke-width="1.6"/>
<line x1="926.9" y1="263.5" x2="926.9" y2="265.5" stroke="#f03e3e" stroke-width="1.6"/>
<rect x="925.3" y="252.2" width="3.2" height="10.5" fill="#000" stroke="#f03e3e" stroke-width="1.5"/>
<line x1="934.3" y1="229.7" x2="934.3" y2="236.4" stroke="#f03e3e" stroke-width="1.6"/>
<rect x="932.7" y="237.2" width="3.2" height="8.9" fill="#000" stroke="#f03e3e" stroke-width="1.5"/>
<line x1="941.8" y1="237.1" x2="941.8" y2="238.8" stroke="#f03e3e" stroke-width="1.6"/>
<rect x="940.2" y="226.2" width="3.2" height="10.2" fill="#000" stroke="#f03e3e" stroke-width="1.5"/>
<line x1="949.3" y1="225.4" x2="949.3" y2="235.9" stroke="#00ffff" stroke-width="1.6"/>
<line x1="946.9" y1="229.3" x2="951.7" y2="229.3" stroke="#00ffff" stroke-width="1.4"/>
<line x1="956.7" y1="230.1" x2="956.7" y2="232.6" stroke="#f03e3e" stroke-width="1.6"/>
<rect x="955.1" y="226.7" width="3.2" height="2.7" fill="#000" stroke="#f03e3e" stroke-width="1.5"/>
<line x1="962.9" y1="204.7" x2="962.9" y2="215.9" stroke="#f03e3e" stroke-width="1.6"/>
<rect x="961.3" y="216.6" width="3.2" height="6.9" fill="#000" stroke="#f03e3e" stroke-width="1.5"/>
<line x1="970.4" y1="215.1" x2="970.4" y2="221.4" stroke="#00ffff" stroke-width="1.6"/>
<rect x="968" y="215.1" width="4.7" height="6.3" fill="#00ffff"/>
<line x1="977.9" y1="215.9" x2="977.9" y2="217.6" stroke="#f03e3e" stroke-width="1.6"/>
<rect x="976.3" y="218.3" width="3.2" height="10.2" fill="#000" stroke="#f03e3e" stroke-width="1.5"/>
<rect x="983.7" y="235" width="3.2" height="11.9" fill="#000" stroke="#f03e3e" stroke-width="1.5"/>
<line x1="992.8" y1="223.5" x2="992.8" y2="253.5" stroke="#00ffff" stroke-width="1.6"/>
<rect x="990.4" y="236" width="4.7" height="16.7" fill="#00ffff"/>
<line x1="1000.2" y1="265.2" x2="1000.2" y2="273.6" stroke="#f03e3e" stroke-width="1.6"/>
<line x1="1000.2" y1="278.6" x2="1000.2" y2="297" stroke="#f03e3e" stroke-width="1.6"/>
<rect x="998.6" y="274.3" width="3.2" height="3.5" fill="#000" stroke="#f03e3e" stroke-width="1.5"/>
<line x1="1006.5" y1="259.4" x2="1006.5" y2="278.6" stroke="#00ffff" stroke-width="1.6"/>
<rect x="1004.1" y="262.7" width="4.7" height="15.9" fill="#00ffff"/>
<rect x="1012.3" y="260.1" width="3.2" height="8.5" fill="#000" stroke="#f03e3e" stroke-width="1.5"/>
<line x1="1021.4" y1="249.4" x2="1021.4" y2="274.9" stroke="#00ffff" stroke-width="1.6"/>
<rect x="1019" y="252.7" width="4.7" height="20.9" fill="#00ffff"/>
<line x1="1028.8" y1="271.1" x2="1028.8" y2="273.2" stroke="#f03e3e" stroke-width="1.6"/>
<rect x="1027.2" y="247.3" width="3.2" height="23" fill="#000" stroke="#f03e3e" stroke-width="1.5"/>
<line x1="1036.3" y1="249.4" x2="1036.3" y2="264.4" stroke="#00ffff" stroke-width="1.6"/>
<rect x="1033.9" y="257.7" width="4.7" height="2.5" fill="#00ffff"/>
<line x1="1043.8" y1="236.8" x2="1043.8" y2="249.9" stroke="#00ffff" stroke-width="1.6"/>
<rect x="1041.4" y="241" width="4.7" height="8.9" fill="#00ffff"/>
<line x1="1050" y1="229.8" x2="1050" y2="235.2" stroke="#f03e3e" stroke-width="1.6"/>
<rect x="1048.4" y="235.9" width="3.2" height="37.7" fill="#000" stroke="#f03e3e" stroke-width="1.5"/>
<line x1="1057.4" y1="211.8" x2="1057.4" y2="224.3" stroke="#f03e3e" stroke-width="1.6"/>
<rect x="1055.8" y="225.1" width="3.2" height="9.7" fill="#000" stroke="#f03e3e" stroke-width="1.5"/>
<line x1="1064.9" y1="209.3" x2="1064.9" y2="211.5" stroke="#f03e3e" stroke-width="1.6"/>
<rect x="1063.3" y="180.8" width="3.2" height="27.7" fill="#000" stroke="#f03e3e" stroke-width="1.5"/>
<line x1="1072.3" y1="172.5" x2="1072.3" y2="190.9" stroke="#00ffff" stroke-width="1.6"/>
<rect x="1070" y="178.4" width="4.7" height="10" fill="#00ffff"/>
<line x1="1079.8" y1="183.1" x2="1079.8" y2="192.1" stroke="#00ffff" stroke-width="1.6"/>
<rect x="1077.5" y="184.2" width="4.7" height="5.5" fill="#00ffff"/>
<line x1="1087.3" y1="184.7" x2="1087.3" y2="198.1" stroke="#00ffff" stroke-width="1.6"/>
<line x1="1084.9" y1="185.2" x2="1089.7" y2="185.2" stroke="#00ffff" stroke-width="1.4"/>
<line x1="1093.5" y1="178.7" x2="1093.5" y2="191.8" stroke="#f03e3e" stroke-width="1.6"/>
<line x1="1091.1" y1="185.2" x2="1095.9" y2="185.2" stroke="#f03e3e" stroke-width="1.4"/>
<line x1="1100.9" y1="192.1" x2="1100.9" y2="197.1" stroke="#f03e3e" stroke-width="1.6"/>
<rect x="1099.3" y="197.8" width="3.2" height="7.9" fill="#000" stroke="#f03e3e" stroke-width="1.5"/>
<line x1="1108.4" y1="159.2" x2="1108.4" y2="174.7" stroke="#f03e3e" stroke-width="1.6"/>
<rect x="1106.8" y="175.5" width="3.2" height="12.5" fill="#000" stroke="#f03e3e" stroke-width="1.5"/>
<line x1="1115.9" y1="169.7" x2="1115.9" y2="182.1" stroke="#00ffff" stroke-width="1.6"/>
<rect x="1113.5" y="172.5" width="4.7" height="3.3" fill="#00ffff"/>
<line x1="1123.3" y1="169.7" x2="1123.3" y2="184.2" stroke="#00ffff" stroke-width="1.6"/>
<rect x="1121" y="175.1" width="4.7" height="5" fill="#00ffff"/>
<line x1="1130.8" y1="166.7" x2="1130.8" y2="195.9" stroke="#00ffff" stroke-width="1.6"/>
<rect x="1128.4" y="172.5" width="4.7" height="15" fill="#00ffff"/>
<line x1="1137" y1="151.7" x2="1137" y2="157" stroke="#f03e3e" stroke-width="1.6"/>
<line x1="1137" y1="185.9" x2="1137" y2="187.1" stroke="#f03e3e" stroke-width="1.6"/>
<rect x="1135.4" y="157.8" width="3.2" height="27.4" fill="#000" stroke="#f03e3e" stroke-width="1.5"/>
<line x1="1144.5" y1="151" x2="1144.5" y2="157.7" stroke="#f03e3e" stroke-width="1.6"/>
<rect x="1142.9" y="147.9" width="3.2" height="2.3" fill="#000" stroke="#f03e3e" stroke-width="1.5"/>
<line x1="1151.9" y1="151" x2="1151.9" y2="156" stroke="#f03e3e" stroke-width="1.6"/>
<rect x="1150.3" y="140.6" width="3.2" height="9.7" fill="#000" stroke="#f03e3e" stroke-width="1.5"/>
<line x1="1159.4" y1="108.4" x2="1159.4" y2="123.5" stroke="#f03e3e" stroke-width="1.6"/>
<rect x="1157.8" y="124.2" width="3.2" height="5.2" fill="#000" stroke="#f03e3e" stroke-width="1.5"/>
<line x1="1166.8" y1="114.3" x2="1166.8" y2="134.8" stroke="#00ffff" stroke-width="1.6"/>
<rect x="1164.5" y="115.9" width="4.7" height="5.8" fill="#00ffff"/>
<line x1="1174.3" y1="113.8" x2="1174.3" y2="121.5" stroke="#f03e3e" stroke-width="1.6"/>
<rect x="1172.7" y="88.3" width="3.2" height="24.7" fill="#000" stroke="#f03e3e" stroke-width="1.5"/>
<line x1="1180.5" y1="85.1" x2="1180.5" y2="101.8" stroke="#00ffff" stroke-width="1.6"/>
<rect x="1178.2" y="87.1" width="4.7" height="6.7" fill="#00ffff"/>
<line x1="1188" y1="85.9" x2="1188" y2="113.8" stroke="#00ffff" stroke-width="1.6"/>
<rect x="1185.6" y="90.9" width="4.7" height="20" fill="#00ffff"/>
<line x1="1195.4" y1="101.8" x2="1195.4" y2="118.1" stroke="#00ffff" stroke-width="1.6"/>
<rect x="1193.1" y="103.1" width="4.7" height="4" fill="#00ffff"/>
<line x1="1202.9" y1="96.4" x2="1202.9" y2="112.6" stroke="#00ffff" stroke-width="1.6"/>
<line x1="1200.5" y1="103.2" x2="1205.3" y2="103.2" stroke="#00ffff" stroke-width="1.4"/>
<line x1="1210.4" y1="106.8" x2="1210.4" y2="138.2" stroke="#00ffff" stroke-width="1.6"/>
<rect x="1208" y="106.8" width="4.7" height="25.1" fill="#00ffff"/>
<line x1="1217.8" y1="124.3" x2="1217.8" y2="141" stroke="#00ffff" stroke-width="1.6"/>
<rect x="1215.5" y="129.3" width="4.7" height="2.5" fill="#00ffff"/>
<line x1="1224" y1="127.6" x2="1224" y2="133.5" stroke="#f03e3e" stroke-width="1.6"/>
<rect x="1222.4" y="112.9" width="3.2" height="14" fill="#000" stroke="#f03e3e" stroke-width="1.5"/>
<line x1="1231.5" y1="100.4" x2="1231.5" y2="113.8" stroke="#00ffff" stroke-width="1.6"/>
<rect x="1229.1" y="106.8" width="4.7" height="4.2" fill="#00ffff"/>
<line x1="1238.9" y1="115.9" x2="1238.9" y2="139.3" stroke="#00ffff" stroke-width="1.6"/>
<rect x="1236.6" y="115.9" width="4.7" height="10" fill="#00ffff"/>
<line x1="1246.4" y1="110.9" x2="1246.4" y2="118.8" stroke="#f03e3e" stroke-width="1.6"/>
<line x1="1246.4" y1="128.8" x2="1246.4" y2="131.8" stroke="#f03e3e" stroke-width="1.6"/>
<rect x="1244.8" y="119.5" width="3.2" height="8.5" fill="#000" stroke="#f03e3e" stroke-width="1.5"/>
<line x1="1253.9" y1="123.1" x2="1253.9" y2="138.2" stroke="#00ffff" stroke-width="1.6"/>
<rect x="1251.5" y="126.8" width="4.7" height="10" fill="#00ffff"/>
<line x1="1261.3" y1="130.1" x2="1261.3" y2="175.2" stroke="#00ffff" stroke-width="1.6"/>
<rect x="1259" y="131.8" width="4.7" height="43.4" fill="#00ffff"/>
<line x1="1267.5" y1="154.4" x2="1267.5" y2="157.7" stroke="#f03e3e" stroke-width="1.6"/>
<line x1="1267.5" y1="175.2" x2="1267.5" y2="176.9" stroke="#f03e3e" stroke-width="1.6"/>
<rect x="1265.9" y="158.4" width="3.2" height="16" fill="#000" stroke="#f03e3e" stroke-width="1.5"/>
<line x1="1275" y1="154.4" x2="1275" y2="174.4" stroke="#00ffff" stroke-width="1.6"/>
<rect x="1272.7" y="155.5" width="4.7" height="18.9" fill="#00ffff"/>
<line x1="1282.5" y1="165.2" x2="1282.5" y2="184.4" stroke="#00ffff" stroke-width="1.6"/>
<rect x="1280.1" y="171.1" width="4.7" height="10" fill="#00ffff"/>
<line x1="1289.9" y1="186.9" x2="1289.9" y2="194.9" stroke="#f03e3e" stroke-width="1.6"/>
<rect x="1288.3" y="179.7" width="3.2" height="6.5" fill="#000" stroke="#f03e3e" stroke-width="1.5"/>
<line x1="1297.4" y1="172.2" x2="1297.4" y2="174.4" stroke="#f03e3e" stroke-width="1.6"/>
<rect x="1295.8" y="142.2" width="3.2" height="29.2" fill="#000" stroke="#f03e3e" stroke-width="1.5"/>
<line x1="1304.8" y1="135.4" x2="1304.8" y2="150.5" stroke="#00ffff" stroke-width="1.6"/>
<line x1="1302.4" y1="142.4" x2="1307.2" y2="142.4" stroke="#00ffff" stroke-width="1.4"/>
<line x1="1312.3" y1="123.4" x2="1312.3" y2="129.7" stroke="#f03e3e" stroke-width="1.6"/>
<line x1="1312.3" y1="134.1" x2="1312.3" y2="137.9" stroke="#f03e3e" stroke-width="1.6"/>
<rect x="1310.7" y="130.5" width="3.2" height="2.9" fill="#000" stroke="#f03e3e" stroke-width="1.5"/>
<line x1="1318.5" y1="133.5" x2="1318.5" y2="147" stroke="#00ffff" stroke-width="1.6"/>
<rect x="1316.2" y="133.5" width="4.7" height="13.5" fill="#00ffff"/>
<line x1="1326" y1="137.9" x2="1326" y2="151.7" stroke="#00ffff" stroke-width="1.6"/>
<rect x="1323.6" y="148.2" width="4.7" height="2.9" fill="#00ffff"/>
<line x1="1333.4" y1="145.5" x2="1333.4" y2="153" stroke="#f03e3e" stroke-width="1.6"/>
<line x1="1331" y1="149.5" x2="1335.8" y2="149.5" stroke="#f03e3e" stroke-width="1.4"/>
<line x1="1340.9" y1="135.1" x2="1340.9" y2="160.5" stroke="#00ffff" stroke-width="1.6"/>
<rect x="1338.5" y="145.5" width="4.7" height="11.3" fill="#00ffff"/>
<line x1="1348.4" y1="154.9" x2="1348.4" y2="172.9" stroke="#00ffff" stroke-width="1.6"/>
<rect x="1346" y="154.9" width="4.7" height="5" fill="#00ffff"/>
<rect x="1354.2" y="143.7" width="3.2" height="13" fill="#000" stroke="#f03e3e" stroke-width="1.5"/>
<line x1="1362" y1="138.5" x2="1362" y2="157.4" stroke="#00ffff" stroke-width="1.6"/>
<rect x="1359.7" y="141.4" width="4.7" height="15.3" fill="#00ffff"/>
<line x1="1369.5" y1="150.5" x2="1369.5" y2="163.7" stroke="#f03e3e" stroke-width="1.6"/>
<rect x="1367.1" y="152.4" width="4.7" height="3.1" fill="#f03e3e"/>
<line x1="1377" y1="153" x2="1377" y2="156.8" stroke="#f03e3e" stroke-width="1.6"/>
<rect x="1375.4" y="135.9" width="3.2" height="16.4" fill="#000" stroke="#f03e3e" stroke-width="1.5"/>
<line x1="1384.4" y1="125.3" x2="1384.4" y2="127.2" stroke="#f03e3e" stroke-width="1.6"/>
<rect x="1382.8" y="112.2" width="3.2" height="12.3" fill="#000" stroke="#f03e3e" stroke-width="1.5"/>
<line x1="1391.9" y1="109.6" x2="1391.9" y2="126" stroke="#00ffff" stroke-width="1.6"/>
<rect x="1389.5" y="112.1" width="4.7" height="13.8" fill="#00ffff"/>
<line x1="1399.3" y1="123.4" x2="1399.3" y2="138.5" stroke="#00ffff" stroke-width="1.6"/>
<rect x="1397" y="125.3" width="4.7" height="4.8" fill="#00ffff"/>
<line x1="1405.6" y1="120.3" x2="1405.6" y2="138.5" stroke="#00ffff" stroke-width="1.6"/>
<rect x="1403.2" y="124.1" width="4.7" height="14.5" fill="#00ffff"/>
<line x1="1413" y1="142.3" x2="1413" y2="144.2" stroke="#f03e3e" stroke-width="1.6"/>
<rect x="1411.4" y="127.1" width="3.2" height="14.5" fill="#000" stroke="#f03e3e" stroke-width="1.5"/>
<line x1="1420.5" y1="111.2" x2="1420.5" y2="114.6" stroke="#f03e3e" stroke-width="1.6"/>
<rect x="1418.9" y="115.4" width="3.2" height="7.9" fill="#000" stroke="#f03e3e" stroke-width="1.5"/>
<line x1="1427.9" y1="100.8" x2="1427.9" y2="105.2" stroke="#f03e3e" stroke-width="1.6"/>
<line x1="1427.9" y1="112.1" x2="1427.9" y2="118.4" stroke="#f03e3e" stroke-width="1.6"/>
<rect x="1426.3" y="106" width="3.2" height="5.4" fill="#000" stroke="#f03e3e" stroke-width="1.5"/>
<line x1="1435.4" y1="97.9" x2="1435.4" y2="117.2" stroke="#00ffff" stroke-width="1.6"/>
<rect x="1433" y="97.9" width="4.7" height="14.8" fill="#00ffff"/>
<line x1="1442.9" y1="96.4" x2="1442.9" y2="101.4" stroke="#f03e3e" stroke-width="1.6"/>
<line x1="1442.9" y1="116.8" x2="1442.9" y2="118.4" stroke="#f03e3e" stroke-width="1.6"/>
<rect x="1441.3" y="102.2" width="3.2" height="13.8" fill="#000" stroke="#f03e3e" stroke-width="1.5"/>
<rect x="88.9" y="486.4" width="7.4" height="5.8" fill="#fff"/>
<rect x="176" y="348.6" width="7.4" height="5" fill="#fff"/>
<rect x="263" y="88.5" width="7.4" height="5" fill="#fff"/>
<rect x="350" y="162.5" width="7.4" height="5.5" fill="#fff"/>
<rect x="437.1" y="139.8" width="7.4" height="5.7" fill="#fff"/>
<rect x="524.1" y="281" width="7.4" height="5.5" fill="#fff"/>
<rect x="611.1" y="285.2" width="7.4" height="5.8" fill="#fff"/>
<rect x="698.1" y="333.2" width="7.4" height="5.7" fill="#fff"/>
<rect x="785.2" y="271.8" width="7.4" height="5.8" fill="#fff"/>
<rect x="872.2" y="261.8" width="7.4" height="5" fill="#fff"/>
<rect x="959.2" y="210" width="7.4" height="5.8" fill="#fff"/>
<rect x="1046.3" y="229.8" width="7.4" height="5.7" fill="#fff"/>
<rect x="1133.3" y="151.7" width="7.4" height="5.8" fill="#fff"/>
<rect x="1220.3" y="106.8" width="7.4" height="5.8" fill="#fff"/>
<rect x="1308.6" y="128.9" width="7.4" height="5.9" fill="#fff"/>
<rect x="1395.6" y="125.1" width="7.4" height="5.3" fill="#fff"/>
<line x1="2" y1="93.8" x2="1468" y2="93.8" stroke="#d8d800" stroke-width="1.8"/>
<line x1="2" y1="182.4" x2="1468" y2="182.4" stroke="#d8d800" stroke-width="1.8"/>
<line x1="2" y1="222.8" x2="1468" y2="222.8" stroke="#d8d800" stroke-width="1.8"/>
<line x1="2" y1="397.6" x2="1468" y2="96.6" stroke="#d8d800" stroke-width="1.65"/>
<line x1="2" y1="499.8" x2="1468" y2="199.3" stroke="#d8d800" stroke-width="1.65"/>
<polyline points="5,443.3 20,445.5 34.6,448.8 49.1,451.8 63.6,454.2 78.2,456.7 92.7,458.5 107.2,460.5 121.7,460.5 128.9,458.5 136.3,455.5 143.5,452.2 150.8,448.5 158,445.2 165.3,441.8 172.5,438.8 180.4,435.5 187,432.1 192.1,428 199.6,420.5 207.1,415.4 214.6,408.8 220.4,401.7 230.5,387.1 237.1,377 250.3,362 260.3,350.3 267,341.9 272,330.2 283.7,319.4 292.1,311.9 308.8,295.2 325.5,278.5 338.8,267.6 350.4,261.9 363.8,255.2 373.8,248.6 383.8,238.5 390.5,231 398,223 416.7,209 433.4,200.3 448.4,194.4 462.8,187.8 473.5,182.7 484.7,179.4 499.2,175.6 506.4,174.4 513.7,175.2 520.9,176.1 528.3,179.4 536.9,183.6 548.6,191.1 560.3,195.3 570.3,201.1 583.7,205.3 591.9,210 608.6,216.7 620.2,221.7 633.6,228.4 650.3,234.2 667,240.9 683.7,246.7 700.4,253.4 717.1,258.4 733.8,262.6 740,263.1 756.7,267.7 773.4,268.2 790.1,268.2 806.8,266.8 823.5,263.1 833,261.8 840.4,261.5 848.6,261.8 862.1,262.1 876.6,262.1 884,261.8 891.1,261.5 898.5,261 913,260.5 920.2,260.1 927.5,258.8 934.7,257.6 942.1,256.5 949.3,255.5 956.6,254.3 963.8,253.1 971.1,251.8 978.3,250.5 992.7,251.9 1007.2,253.2 1021.8,253.9 1036.3,254.4 1050.8,252.2 1058.2,251 1072.7,245.5 1090.2,240.5 1108.9,234.3 1123.6,230.2 1140.3,223.8 1155.4,218.5 1168.7,212.1 1177.1,205.9 1193.8,197.6 1210.5,189.2 1236.9,180.6 1253.6,176.6 1268.6,174.9 1283.2,174.9 1297.7,173.6 1312.6,172.5 1326.7,169.3 1341.2,167.5 1355.7,166.8 1363,166.8 1377.6,165.6 1392.1,161.2 1406.6,159.5 1421.1,155.5 1435.6,151.7 1442.1,150.2" fill="none" stroke="#e4e400" stroke-width="1.3" stroke-linejoin="round"/>
<polyline points="5,475.6 12.9,476.9 20,476.4 34.6,476.4 41.9,475.9 49.1,473.1 56.4,475.2 63.6,476.4 71,476.4 85.5,476.4 92.7,477.2 99.9,480.9 107.2,485.6 114.4,482.2 121.7,474.2 128.9,463.9 136.3,454.7 143.5,445.5 150.8,436.3 158,420.5 165.3,412.1 172.5,403.8 180.4,395.4 187,385.4 192.1,373.7 195.4,362 197.7,353.6 203.5,336.9 213.6,320.2 223.6,300.2 231.9,280.1 240.2,256.9 245.2,240.2 250.2,223 255.2,215.2 263.6,197.3 270.2,182.3 275.2,170.3 281.9,164.4 288.6,162.8 295.2,159.4 303.2,151.9 310.4,145.2 317.8,141.1 325,137.7 332.3,135.5 339.5,136 346.7,142.2 354,146.1 361.2,149.9 368.5,146.9 375.7,133.5 383.1,121 390.3,111 397.6,104.3 404.8,101 412.1,98.1 419.3,96.8 426.6,101.8 433.9,105.1 441.1,110.1 448.4,110.1 455.6,109.3 462.8,109.3 470.1,109.3 477.3,110.9 484.7,113.4 491.9,109.8 499.2,114.3 506.4,121 513.7,131.8 520.9,137.7 528.3,158.5 536.9,180.2 548.6,209 549.3,210 558.5,220 566.8,231.7 573.5,238.4 581.8,240.1 586.8,242.6 593.5,250.1 600.9,257.6 608.6,261.8 615.2,266.8 622.6,276 629.9,283.1 637.1,283.1 644.3,281.8 651.6,281.8 658.8,282.6 666.2,285.2 673.3,287.7 680.7,291 687.9,295.5 695.2,303.2 702.4,310.2 709.8,307.2 716.9,305.5 724.3,303.9 731.5,306.9 738.8,310.2 753.2,309.4 760.5,305.2 767.7,296.9 775.1,293.9 782.3,291 789.6,287.7 796.8,284.4 804.1,281.9 811.3,273.5 818.5,264.3 825.8,261 833,259.8 840.4,257.1 847.5,260.1 854.9,260.1 862.1,262.1 869.4,262.1 876.6,262.6 884,261 891.1,256.8 898.5,253.8 905.7,255.1 913,254.3 920.2,255.5 927.5,254.3 934.7,250.5 942.1,247.6 949.3,244.8 956.6,241.8 963.8,237.6 971.1,234.8 978.3,233.4 986.7,233 992.7,236 1000,242.7 1007.2,247.7 1014.6,251 1021.8,253.2 1029.1,253.2 1036.3,253.9 1043.6,251.5 1050.8,249.4 1058.2,244.4 1061.8,238.5 1072.7,228.2 1079.9,222.6 1090.2,213.1 1101.7,207.6 1108.9,203.8 1116.3,200.4 1123.5,197.1 1130.8,195.9 1137.9,188.6 1145.2,181.1 1152.4,175.2 1159.7,166.9 1166.9,158.5 1174.3,146.8 1181.5,140.2 1188.8,136 1196,131.8 1203.3,128.1 1210.5,128.1 1217.9,129.3 1225,126 1232.4,123.5 1239.6,125.1 1246.9,123.5 1254.1,126.8 1261.4,133.5 1268.6,137.7 1276,144.3 1283.2,150.2 1290.5,154.4 1297.7,151.9 1304.9,150.5 1312.2,148.2 1319.5,148 1326.7,148.6 1334,149.9 1341.2,151.1 1348.4,152.4 1355.7,152.4 1363,151.1 1370.3,152.4 1377.6,149.9 1384.8,142.9 1392.1,140.2 1399.3,138.5 1406.6,138.5 1413.8,137.3 1421.1,132.9 1428.4,129.1 1435.6,126 1442.1,123.4" fill="none" stroke="#f4f4f4" stroke-width="1.2" stroke-linejoin="round"/>
<path d="M114.5 501.3 L122.1 509.5 L117.6 509.5 L117.6 517.5 L111.4 517.5 L111.4 509.5 L106.9 509.5 Z" fill="#ff0000"/>
<path d="M369.1 175.4 L376.7 183.6 L372.2 183.6 L372.2 191.6 L366 191.6 L366 183.6 L361.5 183.6 Z" fill="#ff0000"/>
<path d="M557.9 312.2 L565.5 320.4 L561 320.4 L561 328.4 L554.8 328.4 L554.8 320.4 L550.3 320.4 Z" fill="#ff0000"/>
<path d="M637.8 326.9 L645.4 335.1 L640.9 335.1 L640.9 343.1 L634.7 343.1 L634.7 335.1 L630.2 335.1 Z" fill="#ff0000"/>
<path d="M688.7 324.4 L696.3 332.6 L691.8 332.6 L691.8 340.6 L685.6 340.6 L685.6 332.6 L681.1 332.6 Z" fill="#ff0000"/>
<path d="M710.1 338.9 L717.7 347.1 L713.2 347.1 L713.2 355.1 L707 355.1 L707 347.1 L702.5 347.1 Z" fill="#ff0000"/>
<path d="M1014.2 273.6 L1021.8 281.8 L1017.3 281.8 L1017.3 289.8 L1011.1 289.8 L1011.1 281.8 L1006.6 281.8 Z" fill="#ff0000"/>
<path d="M1211 171 L1218.6 179.2 L1214.1 179.2 L1214.1 187.2 L1207.9 187.2 L1207.9 179.2 L1203.4 179.2 Z" fill="#ff0000"/>
<path d="M1297.9 176.9 L1305.5 185.1 L1301 185.1 L1301 193.1 L1294.8 193.1 L1294.8 185.1 L1290.3 185.1 Z" fill="#ff0000"/>
<path d="M54.9 446.5 L59.7 446.5 L59.7 454.1 L64 454.1 L57.3 461.5 L50.6 454.1 L54.9 454.1 Z" fill="none" stroke="#00d818" stroke-width="1.5"/>
<path d="M257.4 80.1 L262.2 80.1 L262.2 87.7 L266.5 87.7 L259.8 95.1 L253.1 87.7 L257.4 87.7 Z" fill="none" stroke="#00d818" stroke-width="1.5"/>
<path d="M279.5 39.2 L284.3 39.2 L284.3 46.8 L288.6 46.8 L281.9 54.2 L275.2 46.8 L279.5 46.8 Z" fill="none" stroke="#00d818" stroke-width="1.5"/>
<path d="M779.8 250.1 L784.6 250.1 L784.6 257.7 L788.9 257.7 L782.2 265.1 L775.5 257.7 L779.8 257.7 Z" fill="none" stroke="#00d818" stroke-width="1.5"/>
<path d="M801.9 240.1 L806.7 240.1 L806.7 247.7 L811 247.7 L804.3 255.1 L797.6 247.7 L801.9 247.7 Z" fill="none" stroke="#00d818" stroke-width="1.5"/>
<path d="M823.1 205.9 L827.9 205.9 L827.9 213.5 L832.2 213.5 L825.5 220.9 L818.8 213.5 L823.1 213.5 Z" fill="none" stroke="#00d818" stroke-width="1.5"/>
<path d="M975.9 195.8 L980.7 195.8 L980.7 203.4 L985 203.4 L978.3 210.8 L971.6 203.4 L975.9 203.4 Z" fill="none" stroke="#00d818" stroke-width="1.5"/>
<path d="M1091.6 157.5 L1096.4 157.5 L1096.4 165.1 L1100.7 165.1 L1094 172.5 L1087.3 165.1 L1091.6 165.1 Z" fill="none" stroke="#00d818" stroke-width="1.5"/>
<path d="M1193.6 83.4 L1198.4 83.4 L1198.4 91 L1202.7 91 L1196 98.4 L1189.3 91 L1193.6 91 Z" fill="none" stroke="#00d818" stroke-width="1.5"/>
<path d="M1397.6 103.7 L1402.4 103.7 L1402.4 111.3 L1406.7 111.3 L1400 118.7 L1393.3 111.3 L1397.6 111.3 Z" fill="none" stroke="#00d818" stroke-width="1.5"/>
<path d="M1134.3 72 L1140.7 72 L1140.7 80 L1145.3 80 L1137.5 88.4 L1129.7 80 L1134.3 80 Z" fill="#00ff00"/>
<rect x="274" y="33" width="16" height="5.9" fill="#000"/>
<path d="M198.2 14 L205.8 21.8 L201.3 21.8 L201.3 29.2 L195.1 29.2 L195.1 21.8 L190.6 21.8 Z" fill="#ff0000"/>
<path d="M404.8 42.2 L405.3 38.2 L410 37.6 M404.8 42.2 L410 41.5 L416 44 L421.8 46.4" fill="none" stroke="#f0f0f0" stroke-width="1.2"/>
<path d="M107.6 509.4 L125 509.4 M111.5 506.2 L107.6 509.4 L111.5 512.6" fill="none" stroke="#f0f0f0" stroke-width="1.3"/>
<line x1="1413.8" y1="124.1" x2="1467.2" y2="124.1" stroke="#c8c8c8" stroke-width="1.3"/>
<text x="2.3" y="30.3" fill="#f0f0f0" font-family="Liberation Sans, Noto Sans CJK SC, sans-serif" font-size="18.4">创</text>
<text x="20.4" y="30.3" fill="#f0f0f0" font-family="Liberation Sans, Noto Sans CJK SC, sans-serif" font-size="18.4">业</text>
<text x="38.5" y="30.3" fill="#f0f0f0" font-family="Liberation Sans, Noto Sans CJK SC, sans-serif" font-size="18.4">板</text>
<text x="56.6" y="30.3" fill="#f0f0f0" font-family="Liberation Sans, Noto Sans CJK SC, sans-serif" font-size="18.4">指</text>
<text x="80.6" y="30.3" fill="#f0f0f0" font-family="Liberation Sans, Noto Sans CJK SC, sans-serif" font-size="18.4">日</text>
<text x="98.3" y="30.3" fill="#f0f0f0" font-family="Liberation Sans, Noto Sans CJK SC, sans-serif" font-size="18.4">线</text>
<text x="121.1" y="30.3" fill="#f0f0f0" font-family="Liberation Sans, Noto Sans CJK SC, sans-serif" font-size="18.4">前</text>
<text x="138.5" y="30.3" fill="#f0f0f0" font-family="Liberation Sans, Noto Sans CJK SC, sans-serif" font-size="18.4">复</text>
<text x="155.9" y="30.3" fill="#f0f0f0" font-family="Liberation Sans, Noto Sans CJK SC, sans-serif" font-size="18.4">权</text>
<text x="75.6" y="28.2" fill="#f0f0f0" font-family="Liberation Sans, sans-serif" font-size="18" stroke="#000" stroke-width="0.4">(</text>
<text x="116.6" y="28.2" fill="#f0f0f0" font-family="Liberation Sans, sans-serif" font-size="18" stroke="#000" stroke-width="0.4">.</text>
<text x="174.6" y="28.2" fill="#f0f0f0" font-family="Liberation Sans, sans-serif" font-size="18" stroke="#000" stroke-width="0.4">)</text>
<text x="211.4" y="28.2" fill="#f0f0f0" font-family="Liberation Sans, sans-serif" font-size="18" stroke="#000" stroke-width="0.4" textLength="114.6" lengthAdjust="spacingAndGlyphs">EXPMA(12,50)</text>
<text x="335.9" y="28.2" fill="#f0f0f0" font-family="Liberation Sans, sans-serif" font-size="18" stroke="#000" stroke-width="0.4" textLength="47.8" lengthAdjust="spacingAndGlyphs">EXP1:</text>
<text x="389.8" y="28.2" fill="#f0f0f0" font-family="Liberation Sans, sans-serif" font-size="18" stroke="#000" stroke-width="0.4" textLength="65.5" lengthAdjust="spacingAndGlyphs">1690.82</text>
<text x="465" y="28.2" fill="#eaea00" font-family="Liberation Sans, sans-serif" font-size="18" stroke="#000" stroke-width="0.4" textLength="47.7" lengthAdjust="spacingAndGlyphs">EXP2:</text>
<text x="518.9" y="28.2" fill="#eaea00" font-family="Liberation Sans, sans-serif" font-size="18" stroke="#000" stroke-width="0.4" textLength="65.1" lengthAdjust="spacingAndGlyphs">1656.77</text>
<text x="426.1" y="54.2" fill="#f0f0f0" font-family="Liberation Sans, sans-serif" font-size="18" stroke="#000" stroke-width="0.4" textLength="65.5" lengthAdjust="spacingAndGlyphs">1792.03</text>
<text x="127.1" y="517.4" fill="#f0f0f0" font-family="Liberation Sans, sans-serif" font-size="18" stroke="#000" stroke-width="0.4" textLength="65.9" lengthAdjust="spacingAndGlyphs">1220.95</text>
<clipPath id="cl"><rect x="0" y="0" width="1467.2" height="892"/></clipPath>
<text x="1418" y="145.6" fill="#f0f0f0" font-family="Liberation Sans, sans-serif" font-size="18" stroke="#000" stroke-width="0.4" textLength="64.5" lengthAdjust="spacingAndGlyphs" clip-path="url(#cl)">1688.77</text>
<text x="2.4" y="555" fill="#f0f0f0" font-family="Liberation Sans, sans-serif" font-size="18" stroke="#000" stroke-width="0.4" textLength="76" lengthAdjust="spacingAndGlyphs">VOLUME:</text>
<text x="85.3" y="555" fill="#f0f0f0" font-family="Liberation Sans, sans-serif" font-size="18" stroke="#000" stroke-width="0.4" textLength="107.1" lengthAdjust="spacingAndGlyphs">61746936.00</text>
<text x="202.5" y="555" fill="#f0f0f0" font-family="Liberation Sans, sans-serif" font-size="18" stroke="#000" stroke-width="0.4" textLength="36.8" lengthAdjust="spacingAndGlyphs">MA5:</text>
<text x="247" y="555" fill="#f0f0f0" font-family="Liberation Sans, sans-serif" font-size="18" stroke="#000" stroke-width="0.4" textLength="105" lengthAdjust="spacingAndGlyphs">64539300.00</text>
<text x="363" y="555" fill="#eaea00" font-family="Liberation Sans, sans-serif" font-size="18" stroke="#000" stroke-width="0.4" textLength="45.5" lengthAdjust="spacingAndGlyphs">MA10:</text>
<text x="417.6" y="555" fill="#eaea00" font-family="Liberation Sans, sans-serif" font-size="18" stroke="#000" stroke-width="0.4" textLength="107.1" lengthAdjust="spacingAndGlyphs">72561424.00</text>
<text x="3" y="730" fill="#f0f0f0" font-family="Liberation Sans, sans-serif" font-size="18" stroke="#000" stroke-width="0.4" textLength="84.5" lengthAdjust="spacingAndGlyphs">KDJ(9,3,3)</text>
<text x="97.5" y="730" fill="#f0f0f0" font-family="Liberation Sans, sans-serif" font-size="18" stroke="#000" stroke-width="0.4" textLength="14.5" lengthAdjust="spacingAndGlyphs">K:</text>
<text x="119" y="730" fill="#f0f0f0" font-family="Liberation Sans, sans-serif" font-size="18" stroke="#000" stroke-width="0.4" textLength="44" lengthAdjust="spacingAndGlyphs">81.39</text>
<text x="173" y="730" fill="#eaea00" font-family="Liberation Sans, sans-serif" font-size="18" stroke="#000" stroke-width="0.4" textLength="15" lengthAdjust="spacingAndGlyphs">D:</text>
<text x="196.5" y="730" fill="#eaea00" font-family="Liberation Sans, sans-serif" font-size="18" stroke="#000" stroke-width="0.4" textLength="40.8" lengthAdjust="spacingAndGlyphs">77.81</text>
<text x="248" y="730" fill="#ff00ff" font-family="Liberation Sans, sans-serif" font-size="18" stroke="#000" stroke-width="0.4" textLength="12" lengthAdjust="spacingAndGlyphs">J:</text>
<text x="267" y="730" fill="#ff00ff" font-family="Liberation Sans, sans-serif" font-size="18" stroke="#000" stroke-width="0.4" textLength="43" lengthAdjust="spacingAndGlyphs">88.57</text>
<text x="1471.4" y="707.2" fill="#b00000" font-family="Liberation Sans, sans-serif" font-size="18" stroke="#000" stroke-width="0.4">X1</text>
<rect x="3.9" y="663.2" width="3.3" height="46.1" fill="#000" stroke="#f03e3e" stroke-width="1.6"/>
<rect x="10.6" y="662.4" width="4.9" height="47.7" fill="#00ffff"/>
<rect x="18.9" y="663.7" width="3.3" height="45.6" fill="#000" stroke="#f03e3e" stroke-width="1.6"/>
<rect x="25.1" y="664" width="3.3" height="45.3" fill="#000" stroke="#f03e3e" stroke-width="1.6"/>
<rect x="31.7" y="666.2" width="4.9" height="43.9" fill="#00ffff"/>
<rect x="40" y="668.7" width="3.3" height="40.6" fill="#000" stroke="#f03e3e" stroke-width="1.6"/>
<rect x="47.5" y="667.3" width="3.3" height="42" fill="#000" stroke="#f03e3e" stroke-width="1.6"/>
<rect x="54.1" y="669" width="4.9" height="41.1" fill="#00ffff"/>
<rect x="62.4" y="676" width="3.3" height="33.3" fill="#000" stroke="#f03e3e" stroke-width="1.6"/>
<rect x="68.6" y="668.7" width="3.3" height="40.6" fill="#000" stroke="#f03e3e" stroke-width="1.6"/>
<rect x="75.3" y="666.9" width="4.9" height="43.2" fill="#00ffff"/>
<rect x="82.7" y="666.5" width="4.9" height="43.6" fill="#00ffff"/>
<rect x="90.2" y="666.5" width="4.9" height="43.6" fill="#00ffff"/>
<rect x="97.6" y="675.2" width="4.9" height="34.9" fill="#00ffff"/>
<rect x="105.1" y="666.5" width="4.9" height="43.6" fill="#00ffff"/>
<rect x="112.1" y="671.5" width="3.3" height="37.8" fill="#000" stroke="#f03e3e" stroke-width="1.6"/>
<rect x="119.6" y="667.7" width="3.3" height="41.6" fill="#000" stroke="#f03e3e" stroke-width="1.6"/>
<rect x="127" y="661.5" width="3.3" height="47.8" fill="#000" stroke="#f03e3e" stroke-width="1.6"/>
<rect x="134.5" y="650.8" width="3.3" height="58.5" fill="#000" stroke="#f03e3e" stroke-width="1.6"/>
<rect x="142" y="655.3" width="3.3" height="54" fill="#000" stroke="#f03e3e" stroke-width="1.6"/>
<rect x="148.6" y="652.8" width="4.9" height="57.3" fill="#00ffff"/>
<rect x="155.6" y="635.9" width="3.3" height="73.4" fill="#000" stroke="#f03e3e" stroke-width="1.6"/>
<rect x="162.3" y="624.5" width="4.9" height="85.6" fill="#00ffff"/>
<rect x="170.6" y="640.6" width="3.3" height="68.7" fill="#000" stroke="#f03e3e" stroke-width="1.6"/>
<rect x="178" y="622.3" width="3.3" height="87" fill="#000" stroke="#f03e3e" stroke-width="1.6"/>
<rect x="185.5" y="630.1" width="3.3" height="79.2" fill="#000" stroke="#f03e3e" stroke-width="1.6"/>
<rect x="192.9" y="590.9" width="3.3" height="118.4" fill="#000" stroke="#f03e3e" stroke-width="1.6"/>
<rect x="199.6" y="582.2" width="4.9" height="127.9" fill="#00ffff"/>
<rect x="205.8" y="609.3" width="4.9" height="100.8" fill="#00ffff"/>
<rect x="214.1" y="629.8" width="3.3" height="79.5" fill="#000" stroke="#f03e3e" stroke-width="1.6"/>
<rect x="221.5" y="632.6" width="3.3" height="76.7" fill="#000" stroke="#f03e3e" stroke-width="1.6"/>
<rect x="229" y="595.2" width="3.3" height="114.1" fill="#000" stroke="#f03e3e" stroke-width="1.6"/>
<rect x="236.4" y="593.9" width="3.3" height="115.4" fill="#000" stroke="#f03e3e" stroke-width="1.6"/>
<rect x="243.9" y="577.2" width="3.3" height="132.1" fill="#000" stroke="#f03e3e" stroke-width="1.6"/>
<rect x="249.3" y="574.7" width="4.9" height="135.4" fill="#00ffff"/>
<rect x="257.6" y="571.3" width="3.3" height="138" fill="#000" stroke="#f03e3e" stroke-width="1.6"/>
<rect x="265" y="588.9" width="3.3" height="120.4" fill="#000" stroke="#f03e3e" stroke-width="1.6"/>
<rect x="272.5" y="566.8" width="3.3" height="142.5" fill="#000" stroke="#f03e3e" stroke-width="1.6"/>
<rect x="279.2" y="583.9" width="4.9" height="126.2" fill="#00ffff"/>
<rect x="286.6" y="612.3" width="4.9" height="97.8" fill="#00ffff"/>
<rect x="292.8" y="629" width="4.9" height="81.1" fill="#00ffff"/>
<rect x="301.1" y="631.4" width="3.3" height="77.9" fill="#000" stroke="#f03e3e" stroke-width="1.6"/>
<rect x="308.6" y="630.1" width="3.3" height="79.2" fill="#000" stroke="#f03e3e" stroke-width="1.6"/>
<rect x="315.2" y="627.3" width="4.9" height="82.8" fill="#00ffff"/>
<rect x="323.5" y="613.4" width="3.3" height="95.9" fill="#000" stroke="#f03e3e" stroke-width="1.6"/>
<rect x="330.1" y="627.3" width="4.9" height="82.8" fill="#00ffff"/>
<rect x="337.2" y="626.4" width="3.3" height="82.9" fill="#000" stroke="#f03e3e" stroke-width="1.6"/>
<rect x="343.8" y="623.5" width="4.9" height="86.6" fill="#00ffff"/>
<rect x="351.3" y="636.5" width="4.9" height="73.6" fill="#00ffff"/>
<rect x="358.7" y="637.8" width="4.9" height="72.3" fill="#00ffff"/>
<rect x="367" y="630.6" width="3.3" height="78.7" fill="#000" stroke="#f03e3e" stroke-width="1.6"/>
<rect x="374.5" y="610.6" width="3.3" height="98.7" fill="#000" stroke="#f03e3e" stroke-width="1.6"/>
<rect x="379.9" y="601.9" width="4.9" height="108.2" fill="#00ffff"/>
<rect x="388.1" y="619.7" width="3.3" height="89.6" fill="#000" stroke="#f03e3e" stroke-width="1.6"/>
<rect x="394.8" y="614.4" width="4.9" height="95.7" fill="#00ffff"/>
<rect x="402.2" y="611.4" width="4.9" height="98.7" fill="#00ffff"/>
<rect x="410.5" y="629.8" width="3.3" height="79.5" fill="#000" stroke="#f03e3e" stroke-width="1.6"/>
<rect x="417.2" y="613.9" width="4.9" height="96.2" fill="#00ffff"/>
<rect x="423.4" y="624.5" width="4.9" height="85.6" fill="#00ffff"/>
<rect x="431.6" y="642" width="3.3" height="67.3" fill="#000" stroke="#f03e3e" stroke-width="1.6"/>
<rect x="438.3" y="636.5" width="4.9" height="73.6" fill="#00ffff"/>
<rect x="446.6" y="630.6" width="3.3" height="78.7" fill="#000" stroke="#f03e3e" stroke-width="1.6"/>
<rect x="454" y="622.3" width="3.3" height="87" fill="#000" stroke="#f03e3e" stroke-width="1.6"/>
<rect x="460.7" y="627.3" width="4.9" height="82.8" fill="#00ffff"/>
<rect x="467.7" y="631.4" width="3.3" height="77.9" fill="#000" stroke="#f03e3e" stroke-width="1.6"/>
<rect x="474.4" y="624.5" width="4.9" height="85.6" fill="#00ffff"/>
<rect x="481.8" y="633.5" width="4.9" height="76.6" fill="#00ffff"/>
<rect x="490.1" y="639" width="3.3" height="70.3" fill="#000" stroke="#f03e3e" stroke-width="1.6"/>
<rect x="496.7" y="624.5" width="4.9" height="85.6" fill="#00ffff"/>
<rect x="504.2" y="642.3" width="4.9" height="67.8" fill="#00ffff"/>
<rect x="510.4" y="634.8" width="4.9" height="75.3" fill="#00ffff"/>
<rect x="518.7" y="655.3" width="3.3" height="54" fill="#000" stroke="#f03e3e" stroke-width="1.6"/>
<rect x="525.3" y="642.3" width="4.9" height="67.8" fill="#00ffff"/>
<rect x="532.8" y="649.8" width="4.9" height="60.3" fill="#00ffff"/>
<rect x="541.1" y="654" width="3.3" height="55.3" fill="#000" stroke="#f03e3e" stroke-width="1.6"/>
<rect x="547.7" y="657.4" width="4.9" height="52.7" fill="#00ffff"/>
<rect x="556" y="637.3" width="3.3" height="72" fill="#000" stroke="#f03e3e" stroke-width="1.6"/>
<rect x="561.4" y="652.8" width="4.9" height="57.3" fill="#00ffff"/>
<rect x="569.6" y="655.3" width="3.3" height="54" fill="#000" stroke="#f03e3e" stroke-width="1.6"/>
<rect x="577.1" y="652.3" width="3.3" height="57" fill="#000" stroke="#f03e3e" stroke-width="1.6"/>
<rect x="584.6" y="652.3" width="3.3" height="57" fill="#000" stroke="#f03e3e" stroke-width="1.6"/>
<rect x="591.2" y="639.3" width="4.9" height="70.8" fill="#00ffff"/>
<rect x="598.7" y="650.7" width="4.9" height="59.4" fill="#00ffff"/>
<rect x="605.7" y="652.3" width="3.3" height="57" fill="#000" stroke="#f03e3e" stroke-width="1.6"/>
<rect x="612.4" y="647" width="4.9" height="63.1" fill="#00ffff"/>
<rect x="619.8" y="644" width="4.9" height="66.1" fill="#00ffff"/>
<rect x="627.3" y="655.7" width="4.9" height="54.4" fill="#00ffff"/>
<rect x="635.5" y="649.8" width="3.3" height="59.5" fill="#000" stroke="#f03e3e" stroke-width="1.6"/>
<rect x="643" y="648.1" width="3.3" height="61.2" fill="#000" stroke="#f03e3e" stroke-width="1.6"/>
<rect x="649.2" y="655.3" width="3.3" height="54" fill="#000" stroke="#f03e3e" stroke-width="1.6"/>
<rect x="655.9" y="651.5" width="4.9" height="58.6" fill="#00ffff"/>
<rect x="663.3" y="655.7" width="4.9" height="54.4" fill="#00ffff"/>
<rect x="670.8" y="650.7" width="4.9" height="59.4" fill="#00ffff"/>
<rect x="678.3" y="657.4" width="4.9" height="52.7" fill="#00ffff"/>
<rect x="685.7" y="657.4" width="4.9" height="52.7" fill="#00ffff"/>
<rect x="691.9" y="656.5" width="4.9" height="53.6" fill="#00ffff"/>
<rect x="700.2" y="666" width="3.3" height="43.3" fill="#000" stroke="#f03e3e" stroke-width="1.6"/>
<rect x="707.7" y="641.8" width="3.3" height="67.5" fill="#000" stroke="#f03e3e" stroke-width="1.6"/>
<rect x="714.3" y="647" width="4.9" height="63.1" fill="#00ffff"/>
<rect x="722.6" y="647.8" width="3.3" height="61.5" fill="#000" stroke="#f03e3e" stroke-width="1.6"/>
<rect x="729.2" y="648.5" width="4.9" height="61.6" fill="#00ffff"/>
<rect x="735.5" y="661.9" width="4.9" height="48.2" fill="#00ffff"/>
<rect x="743.7" y="666" width="3.3" height="43.3" fill="#000" stroke="#f03e3e" stroke-width="1.6"/>
<rect x="750.4" y="645.3" width="4.9" height="64.8" fill="#00ffff"/>
<rect x="758.6" y="641.8" width="3.3" height="67.5" fill="#000" stroke="#f03e3e" stroke-width="1.6"/>
<rect x="765.3" y="624.5" width="4.9" height="85.6" fill="#00ffff"/>
<rect x="772.8" y="636.5" width="4.9" height="73.6" fill="#00ffff"/>
<rect x="779" y="641" width="4.9" height="69.1" fill="#00ffff"/>
<rect x="787.2" y="650.6" width="3.3" height="58.7" fill="#000" stroke="#f03e3e" stroke-width="1.6"/>
<rect x="794.7" y="641.8" width="3.3" height="67.5" fill="#000" stroke="#f03e3e" stroke-width="1.6"/>
<rect x="801.3" y="647" width="4.9" height="63.1" fill="#00ffff"/>
<rect x="809.6" y="631.4" width="3.3" height="77.9" fill="#000" stroke="#f03e3e" stroke-width="1.6"/>
<rect x="817.1" y="641.8" width="3.3" height="67.5" fill="#000" stroke="#f03e3e" stroke-width="1.6"/>
<rect x="822.5" y="649.8" width="4.9" height="60.3" fill="#00ffff"/>
<rect x="829.9" y="654.5" width="4.9" height="55.6" fill="#00ffff"/>
<rect x="838.2" y="662.8" width="3.3" height="46.5" fill="#000" stroke="#f03e3e" stroke-width="1.6"/>
<rect x="844.9" y="649.8" width="4.9" height="60.3" fill="#00ffff"/>
<rect x="853.1" y="667.3" width="3.3" height="42" fill="#000" stroke="#f03e3e" stroke-width="1.6"/>
<rect x="859.8" y="666.5" width="4.9" height="43.6" fill="#00ffff"/>
<rect x="866" y="664.9" width="4.9" height="45.2" fill="#00ffff"/>
<rect x="874.3" y="667.3" width="3.3" height="42" fill="#000" stroke="#f03e3e" stroke-width="1.6"/>
<rect x="881.7" y="650.6" width="3.3" height="58.7" fill="#000" stroke="#f03e3e" stroke-width="1.6"/>
<rect x="888.4" y="663.2" width="4.9" height="46.9" fill="#00ffff"/>
<rect x="896.6" y="658.5" width="3.3" height="50.8" fill="#000" stroke="#f03e3e" stroke-width="1.6"/>
<rect x="903.3" y="660.7" width="4.9" height="49.4" fill="#00ffff"/>
<rect x="910.3" y="665.7" width="3.3" height="43.6" fill="#000" stroke="#f03e3e" stroke-width="1.6"/>
<rect x="917" y="662.4" width="4.9" height="47.7" fill="#00ffff"/>
<rect x="925.2" y="670.2" width="3.3" height="39.1" fill="#000" stroke="#f03e3e" stroke-width="1.6"/>
<rect x="932.7" y="658.5" width="3.3" height="50.8" fill="#000" stroke="#f03e3e" stroke-width="1.6"/>
<rect x="940.2" y="662.8" width="3.3" height="46.5" fill="#000" stroke="#f03e3e" stroke-width="1.6"/>
<rect x="946.8" y="667.9" width="4.9" height="42.2" fill="#00ffff"/>
<rect x="955.1" y="668.7" width="3.3" height="40.6" fill="#000" stroke="#f03e3e" stroke-width="1.6"/>
<rect x="961.3" y="665.7" width="3.3" height="43.6" fill="#000" stroke="#f03e3e" stroke-width="1.6"/>
<rect x="967.9" y="666.5" width="4.9" height="43.6" fill="#00ffff"/>
<rect x="976.2" y="667.3" width="3.3" height="42" fill="#000" stroke="#f03e3e" stroke-width="1.6"/>
<rect x="983.7" y="659.8" width="3.3" height="49.5" fill="#000" stroke="#f03e3e" stroke-width="1.6"/>
<rect x="990.3" y="665.2" width="4.9" height="44.9" fill="#00ffff"/>
<rect x="998.6" y="649.3" width="3.3" height="60" fill="#000" stroke="#f03e3e" stroke-width="1.6"/>
<rect x="1004" y="666.5" width="4.9" height="43.6" fill="#00ffff"/>
<rect x="1012.3" y="670.2" width="3.3" height="39.1" fill="#000" stroke="#f03e3e" stroke-width="1.6"/>
<rect x="1018.9" y="664" width="4.9" height="46.1" fill="#00ffff"/>
<rect x="1027.2" y="667.3" width="3.3" height="42" fill="#000" stroke="#f03e3e" stroke-width="1.6"/>
<rect x="1033.8" y="669.4" width="4.9" height="40.7" fill="#00ffff"/>
<rect x="1041.3" y="662" width="4.9" height="48.1" fill="#00ffff"/>
<rect x="1048.3" y="659.8" width="3.3" height="49.5" fill="#000" stroke="#f03e3e" stroke-width="1.6"/>
<rect x="1055.8" y="656.8" width="3.3" height="52.5" fill="#000" stroke="#f03e3e" stroke-width="1.6"/>
<rect x="1063.2" y="637.3" width="3.3" height="72" fill="#000" stroke="#f03e3e" stroke-width="1.6"/>
<rect x="1069.9" y="640.7" width="4.9" height="69.4" fill="#00ffff"/>
<rect x="1077.4" y="652.8" width="4.9" height="57.3" fill="#00ffff"/>
<rect x="1084.8" y="652.8" width="4.9" height="57.3" fill="#00ffff"/>
<rect x="1091.8" y="652.3" width="3.3" height="57" fill="#000" stroke="#f03e3e" stroke-width="1.6"/>
<rect x="1099.3" y="655.3" width="3.3" height="54" fill="#000" stroke="#f03e3e" stroke-width="1.6"/>
<rect x="1106.8" y="643.5" width="3.3" height="65.8" fill="#000" stroke="#f03e3e" stroke-width="1.6"/>
<rect x="1113.4" y="647" width="4.9" height="63.1" fill="#00ffff"/>
<rect x="1120.9" y="645.3" width="4.9" height="64.8" fill="#00ffff"/>
<rect x="1128.3" y="634.8" width="4.9" height="75.3" fill="#00ffff"/>
<rect x="1135.3" y="640.3" width="3.3" height="69" fill="#000" stroke="#f03e3e" stroke-width="1.6"/>
<rect x="1142.8" y="637.3" width="3.3" height="72" fill="#000" stroke="#f03e3e" stroke-width="1.6"/>
<rect x="1150.3" y="639" width="3.3" height="70.3" fill="#000" stroke="#f03e3e" stroke-width="1.6"/>
<rect x="1157.7" y="615.1" width="3.3" height="94.2" fill="#000" stroke="#f03e3e" stroke-width="1.6"/>
<rect x="1164.4" y="632.3" width="4.9" height="77.8" fill="#00ffff"/>
<rect x="1172.6" y="617.7" width="3.3" height="91.6" fill="#000" stroke="#f03e3e" stroke-width="1.6"/>
<rect x="1178.1" y="619.8" width="4.9" height="90.3" fill="#00ffff"/>
<rect x="1185.5" y="630.6" width="4.9" height="79.5" fill="#00ffff"/>
<rect x="1193" y="640.7" width="4.9" height="69.4" fill="#00ffff"/>
<rect x="1200.4" y="633.1" width="4.9" height="77" fill="#00ffff"/>
<rect x="1207.9" y="629.5" width="4.9" height="80.6" fill="#00ffff"/>
<rect x="1215.4" y="645.3" width="4.9" height="64.8" fill="#00ffff"/>
<rect x="1222.4" y="646.1" width="3.3" height="63.2" fill="#000" stroke="#f03e3e" stroke-width="1.6"/>
<rect x="1229" y="642.3" width="4.9" height="67.8" fill="#00ffff"/>
<rect x="1236.5" y="644.8" width="4.9" height="65.3" fill="#00ffff"/>
<rect x="1244.8" y="639.8" width="3.3" height="69.5" fill="#000" stroke="#f03e3e" stroke-width="1.6"/>
<rect x="1251.4" y="641.2" width="4.9" height="68.9" fill="#00ffff"/>
<rect x="1258.9" y="640.2" width="4.9" height="69.9" fill="#00ffff"/>
<rect x="1265.9" y="655.3" width="3.3" height="54" fill="#000" stroke="#f03e3e" stroke-width="1.6"/>
<rect x="1272.6" y="662" width="4.9" height="48.1" fill="#00ffff"/>
<rect x="1280" y="663.2" width="4.9" height="46.9" fill="#00ffff"/>
<rect x="1288.3" y="665.7" width="3.3" height="43.6" fill="#000" stroke="#f03e3e" stroke-width="1.6"/>
<rect x="1295.7" y="656.8" width="3.3" height="52.5" fill="#000" stroke="#f03e3e" stroke-width="1.6"/>
<rect x="1302.4" y="648.5" width="4.9" height="61.6" fill="#00ffff"/>
<rect x="1310.7" y="643.5" width="3.3" height="65.8" fill="#000" stroke="#f03e3e" stroke-width="1.6"/>
<rect x="1316.1" y="639.5" width="4.9" height="70.6" fill="#00ffff"/>
<rect x="1323.5" y="649.8" width="4.9" height="60.3" fill="#00ffff"/>
<rect x="1331.8" y="658.2" width="3.3" height="51.1" fill="#000" stroke="#f03e3e" stroke-width="1.6"/>
<rect x="1338.4" y="651.5" width="4.9" height="58.6" fill="#00ffff"/>
<rect x="1345.9" y="652.3" width="4.9" height="57.8" fill="#00ffff"/>
<rect x="1354.2" y="655.7" width="3.3" height="53.6" fill="#000" stroke="#f03e3e" stroke-width="1.6"/>
<rect x="1359.6" y="654.9" width="4.9" height="55.2" fill="#00ffff"/>
<rect x="1367.8" y="656.5" width="3.3" height="52.8" fill="#000" stroke="#f03e3e" stroke-width="1.6"/>
<rect x="1375.3" y="655.3" width="3.3" height="54" fill="#000" stroke="#f03e3e" stroke-width="1.6"/>
<rect x="1382.8" y="634.3" width="3.3" height="75" fill="#000" stroke="#f03e3e" stroke-width="1.6"/>
<rect x="1389.4" y="628.6" width="4.9" height="81.5" fill="#00ffff"/>
<rect x="1396.9" y="644" width="4.9" height="66.1" fill="#00ffff"/>
<rect x="1403.1" y="652.8" width="4.9" height="57.3" fill="#00ffff"/>
<rect x="1411.4" y="656.8" width="3.3" height="52.5" fill="#000" stroke="#f03e3e" stroke-width="1.6"/>
<rect x="1418.8" y="655.3" width="3.3" height="54" fill="#000" stroke="#f03e3e" stroke-width="1.6"/>
<rect x="1426.3" y="656.8" width="3.3" height="52.5" fill="#000" stroke="#f03e3e" stroke-width="1.6"/>
<rect x="1432.9" y="654.9" width="4.9" height="55.2" fill="#00ffff"/>
<rect x="1441.2" y="659.8" width="3.3" height="49.5" fill="#000" stroke="#f03e3e" stroke-width="1.6"/>
<polyline points="5.5,665.7 13.4,664 20.4,662.9 26.7,662.9 34.2,660.7 41.8,662.4 49.1,662.9 56.8,663.7 64.1,665.2 70.5,666.9 77.8,667.4 85.3,668.2 92.7,668.2 100.2,669.5 107.7,669.5 114.1,669.9 121.4,669.9 128.8,668.2 136.3,665.7 143.6,665.7 151.1,664 157.3,659.9 164.7,656.5 172,652.3 179.5,647.8 187,644.8 194.6,636.5 202.1,628.1 208.2,625.1 215.6,622.3 223.3,618.9 230.6,616.1 238,613.1 245.5,606.8 248,603.9 251.7,600.6 259.2,596.7 266.7,594.7 274.2,593.4 281.7,592.2 289.2,590.6 295.4,589.7 302.6,593.1 310.1,596.4 317.6,600.1 325.2,604.4 332.7,609.8 339,613.9 346.5,619.8 353.7,625.1 361.2,627.8 368.6,627.8 376.1,626.1 382.4,623.5 390,622.3 397.1,621.8 404.6,620.6 412.2,621.8 419.7,620.6 425.9,618.9 433.4,618.9 440.6,620.6 448.1,622.3 455.6,624.5 463.1,625.6 469.3,627.3 476.8,628.1 484.1,629.5 491.8,631.1 496,631.1 506.5,631.1 512.7,631.1 520.2,634 527.7,636.1 535.2,638.5 542.8,640.2 550.3,643.2 557.5,644.5 563.6,646.5 571.2,649 578.7,649.5 586.2,649.5 593.7,649.5 600.9,650.2 607.1,649.8 614.6,649.8 622.1,649 629.6,650.2 637.1,650.2 644.3,649 650.5,649.5 658,649 665.5,650.7 673,650.7 680.5,651.8 688.1,651.8 694.2,653.2 701.7,654.9 709.3,654 716.4,654 724,653.5 731.5,654 737.8,654 744,655.2 752.7,654 760.2,652.3 767.7,649 775.2,646.2 781.1,646 788.8,646 796.3,646 803.6,645.7 811.3,642.8 818.6,640.2 824.7,639.8 832.2,641.5 839.7,644.8 847.2,647.3 854.7,649.8 862.1,651.5 868.2,653.2 875.9,656.5 883.1,658.2 890.6,659.5 898.1,661.2 905.7,661.2 911.8,661.2 919.4,662.4 926.9,662.9 934.4,662.9 941.9,661.5 949.1,663.2 956.4,664 962.8,664 970.3,664.5 977.8,665.7 985.1,664 992,664.9 1000.4,662.9 1006.5,664 1013.7,664 1021.2,664 1028.7,664 1036.3,664 1043.8,664 1049.6,664.5 1057.1,662.9 1064.6,661.2 1072.2,659.5 1079.7,658.2 1087.2,656.5 1093.4,655.2 1100.9,653.5 1108.4,650.7 1115.9,650.7 1123.4,649 1130.6,646.5 1136.8,647.8 1144.3,646.2 1151.8,644.5 1159.3,641.8 1166.8,639 1174.4,635.6 1180.4,632.3 1187.9,630.6 1195.2,630.6 1202.8,630.6 1210.3,629.8 1217.8,630.6 1223.8,631.1 1231.3,634 1238.7,635.6 1246.5,639 1253.7,640.2 1261.2,640.2 1267.4,641.5 1274.9,644.5 1282.4,647.3 1289.9,650.3 1297.5,650.3 1305,652.3 1312.1,652.3 1318.3,651.8 1325.8,652.3 1333.4,654.9 1340.9,653.5 1348.4,653.2 1355.9,651.8 1362.1,651.8 1369.6,651.8 1377.1,651.8 1384.3,651.8 1391.8,650.2 1399.3,649 1405.5,649 1413,649 1420.2,649 1427.7,650.2 1435.2,650.2 1441.9,650.2" fill="none" stroke="#e4e400" stroke-width="1.45" stroke-linejoin="round"/>
<polyline points="5.5,659.5 15.9,659.5 20.4,661.2 26.7,661.9 34.2,664 41.8,665.2 49.1,665.7 56.8,666.9 64.1,669.9 70.5,670.2 77.8,670.2 85.3,670.2 92.7,669 100.2,668.5 107.7,668.5 114.1,669.9 121.4,669.9 128.8,668.2 136.3,664 143.6,660.7 151.1,658.2 157.3,649.8 164.7,644.8 172,642.3 179.5,635.6 187,631.1 194.6,621.5 202.1,613.1 208.2,606.8 215.6,608.4 223.3,608.4 230.6,610.6 238,612.3 245.5,604.8 248,600.1 251.7,593.1 259.2,583 266.7,581.7 274.2,575 281.7,576.7 289.2,585.5 295.4,596.4 302.6,606.4 310.1,616.8 317.6,626.5 325.2,626.5 332.7,626.5 339,625.1 346.5,623.5 353.7,626.5 361.2,630.6 368.6,631.1 376.1,627.3 382.4,623.1 390,618.1 397.1,613.9 404.6,611.4 412.2,615.6 419.7,617.3 425.9,620.6 433.4,626.1 440.6,629.8 448.1,629.8 455.6,631.1 463.1,632.8 469.3,629.8 476.8,628.1 484.1,627.8 491.8,631.1 496,631.1 506.5,632.3 512.7,635.6 520.2,639.8 527.7,640.2 535.2,645.7 542.8,648.2 550.3,652.3 557.5,649 563.6,650.2 571.2,651.8 578.7,650.7 586.2,649.8 593.7,649.8 600.9,650.2 607.1,649.5 614.6,649 622.1,648.2 629.6,650.7 637.1,650.2 644.3,649.5 650.5,650.2 658,652.3 665.5,651.8 673,651.5 680.5,654.5 688.1,654.9 694.2,656.2 701.7,658.2 709.3,656.5 716.4,654 724,652.3 731.5,649.8 737.8,649 744,654 752.7,654 760.2,651.5 767.7,648.2 775.2,643.2 781.1,638.5 788.8,638.5 796.3,638.5 803.6,642.3 811.3,643.2 818.6,641.5 824.7,642.8 832.2,644.8 839.7,648.2 847.2,652.3 854.7,658.2 862.1,661.2 868.2,662.4 875.9,664 883.1,664 890.6,663.2 898.1,661.2 905.7,659.5 911.8,659.5 919.4,661.2 926.9,662.4 934.4,662.9 941.9,662.9 949.1,664 956.4,665.7 962.8,665.2 970.3,666.9 977.8,666.9 985.1,665.2 992,665.7 1000.4,660.7 1006.5,660.7 1013.7,660.7 1021.2,662.9 1028.7,665.2 1036.3,668.5 1043.8,666.2 1049.6,665.2 1057.1,661.5 1064.6,656.5 1072.2,650.7 1079.7,649 1087.2,649 1093.4,647.3 1100.9,650.2 1108.4,651.8 1115.9,650.7 1123.4,648.5 1130.6,645.7 1136.8,643.2 1144.3,641.5 1151.8,638.2 1159.3,632.3 1166.8,632.3 1174.4,628.1 1180.4,624.8 1186.6,623.1 1195.2,629 1202.8,629.8 1210.3,632.3 1217.8,637.3 1223.8,639.8 1231.3,639.8 1238.7,641.5 1246.5,644.5 1253.7,643.2 1261.2,641.5 1267.4,644.8 1274.9,648.2 1282.4,652.3 1289.9,657.9 1297.5,661.2 1305,659 1312.1,654.5 1318.3,650.2 1325.8,647.3 1333.4,649 1340.9,649 1348.4,651.5 1355.9,654.9 1362.1,654.9 1369.6,654.9 1377.1,654.9 1384.3,651.5 1391.8,646.5 1399.3,644.5 1405.5,642.8 1413,644.5 1420.2,647.3 1427.7,653.2 1435.2,654.9 1441.9,656.9" fill="none" stroke="#f4f4f4" stroke-width="1.3" stroke-linejoin="round"/>
<polyline points="5.6,811.3 13,809.5 20,805.9 27.4,801.9 34.6,803.9 41.9,804.9 49.1,802.9 56.5,806.9 63.9,810.9 70.9,812.9 78.3,812.3 85.5,813.9 92.7,817.9 99.9,825.8 107.8,833.8 113.8,829.8 119.8,822.8 127.8,810.9 136.2,799.9 143.4,792.9 150.8,786.9 157.8,780.9 165.4,777.5 172.6,775.5 179.7,774.9 187.1,773.5 194.3,771.9 201.7,771.5 208.9,772.9 216.1,774.9 223.3,774.9 230.7,774.9 237.9,773.5 245.3,771.9 252.4,771.5 259.6,773.5 267,772.9 274.2,771.9 281.6,774.3 288.8,781.9 295.6,794.9 303.2,801.9 310.4,807.9 317.8,811.5 325,813.9 332.4,816.9 339.5,821.8 346.9,827.8 354.1,833.8 361.3,839.8 365.9,839.4 370.9,833.8 375.9,827.8 383.1,816.9 390.3,805.9 396.9,798.9 404.8,794.9 412,791.5 419.2,791.5 426.6,796.9 433.8,807.9 441.2,817.9 448.4,822.8 455.8,826.2 463,826.8 468.8,823.4 476.7,820.3 484.7,817.9 491.7,812.9 499.3,811.9 506.5,815.9 513.7,823.8 521.1,831.8 528.3,839.8 535.7,843.8 542.9,849.8 550,854.4 557.4,855.4 564.6,855.4 571.8,855.4 579.2,851.8 586.4,844.2 593.6,840.2 600.8,840.8 608,837.8 615.4,834.8 622.6,838.8 629.9,842.8 637.1,840.2 644.3,834.8 651.7,827.8 658.9,821.8 664.9,817.5 673.5,815.9 680.7,818.9 687.9,822.8 693.9,828.8 701.8,834.8 708.8,831.8 716.8,824.8 724.2,818.9 731.4,815.9 737.8,815.5 745.8,813.9 753.2,812.3 760.4,806.3 767.8,800.9 774.9,796.9 782.1,794.3 789.3,793.9 796.7,791.5 803.9,789.5 811.1,785.9 818.5,781.9 825.7,781.9 832.9,784.9 840.1,787.5 847.4,796.9 854.6,804.9 861.8,815.9 869.2,823.4 876.4,827.8 883.6,825.8 890.6,819.9 898.4,812.9 905.6,810.3 912,807.9 919.4,810.9 927.3,812.9 934.5,807.9 941.9,801.9 949.1,794.9 956.9,787.9 963.7,783.9 970.9,783.5 978.3,783.9 984.9,787.5 990.9,795.9 999.8,805.9 1006.4,816.9 1013.2,822.8 1021.2,827.4 1027.8,827.8 1036.2,825.8 1042.8,823.4 1050.2,814.9 1057.4,807.5 1064.8,799.9 1071.9,792.9 1079.1,789.5 1086.3,785.9 1093.7,782.9 1100.9,781.5 1108.1,780.9 1115.5,780.9 1122.7,783.9 1130.7,789.5 1137.1,789.5 1144.4,785.5 1151.6,781.9 1158.8,779.5 1166.2,778.9 1174.6,775.5 1180.6,773.5 1187.6,774.9 1196,776.9 1203.4,778.3 1210.6,786.9 1217.8,796.9 1225.2,802.9 1232.3,806.9 1239.5,812.9 1246.9,817.5 1254.1,824.8 1261.5,833.4 1268.7,838.2 1275.9,843.8 1283.1,849.4 1290.5,852.2 1297.8,847.8 1305,840.8 1312.2,830.8 1319.4,822.8 1326.8,816.9 1334,812.9 1341.2,810.9 1348.6,810.9 1355.8,809.5 1363,811.9 1369.7,814.9 1377.5,810.3 1384.7,802.9 1391.9,798.3 1399.3,796.3 1405.7,796.3 1413.7,795.9 1421.1,792.3 1428.3,789.5 1435.7,787.5 1442,785.5" fill="none" stroke="#e4e400" stroke-width="1.35" stroke-linejoin="round"/>
<polyline points="5.6,798.9 13,802.9 20,797.9 27.4,792.9 34.6,809.5 41.9,805.5 49.1,798.9 56.5,811.9 63.9,821.8 70.9,815.9 78.3,812.9 85.5,817.9 92.7,827.8 99.9,841.8 107.8,847.4 111.8,825.8 119.8,801.9 127.8,787.9 136.2,778.9 143.4,776.3 150.8,774.9 157.8,768.3 165.4,770.3 172.6,770.9 179.7,774.9 187.1,769.9 194.3,766.9 201.7,770.9 208.9,776.3 216.1,779.9 223.3,775.5 230.7,774.9 237.9,770.5 245.3,767.3 252.4,769.9 259.6,778.3 267,771.9 274.2,770.3 281.6,779.9 288.8,797.9 295.6,813.9 303.2,815.5 310.4,815.9 317.8,821.4 325,819.5 332.4,822.8 339.5,829.8 346.9,841.8 354.1,846.2 361.3,851.8 365.9,837.8 370.9,821.8 375.9,807.9 383.1,795.9 390.3,785.9 396.9,778.9 404.8,782.9 412,785.9 419.2,793.9 426.6,807.9 433.8,825.8 441.2,839.8 448.4,836.2 455.8,829.4 463,827.8 468.8,816.9 476.7,813.5 484.7,815.9 491.7,801.9 499.3,811.9 506.5,822.8 513.7,838.8 521.1,844.8 528.3,852.8 535.7,855.8 542.9,858.8 550,863.4 557.4,856.8 564.6,855.4 571.8,855.4 579.2,844.8 586.4,828.8 593.6,835.8 600.8,838.8 608,831.8 615.4,828.8 622.6,843.8 629.9,851.8 637.1,835.8 644.3,823.8 651.7,815.9 658.9,809.5 664.9,806.3 673.5,811.9 680.7,822.8 687.9,833.8 693.9,843.8 701.8,845.8 708.8,823.8 716.8,812.9 724.2,803.9 731.4,806.9 737.8,813.5 745.8,811.9 753.2,809.9 760.4,796.9 767.8,788.9 774.9,786.9 782.1,790.9 789.3,792.3 796.7,785.5 803.9,784.9 811.1,777.9 818.5,773.5 825.7,782.9 832.9,790.9 840.1,793.9 847.4,813.9 854.6,823.8 861.8,832.8 869.2,837.4 876.4,837.8 883.6,822.8 890.6,807.9 898.4,798.9 905.6,807.9 912,804.3 919.4,815.9 927.3,814.9 934.5,801.9 941.9,789.5 949.1,782.9 956.9,774.3 963.7,776.3 970.9,779.9 978.3,783.9 984.9,795.9 990.9,815.9 999.8,826.8 1006.4,836.8 1013.2,833.4 1021.2,838.2 1027.8,826.8 1036.2,823.4 1042.8,815.9 1050.2,801.9 1057.4,793.9 1064.8,782.9 1071.9,781.5 1079.1,779.5 1086.3,777.9 1093.7,776.9 1100.9,778.9 1108.1,777.5 1115.5,778.9 1122.7,787.9 1130.7,801.9 1137.1,788.3 1144.4,779.9 1151.6,773.5 1158.8,774.3 1166.2,776.3 1174.6,771.5 1180.6,770.9 1187.6,775.5 1196,778.9 1203.4,781.9 1210.6,799.9 1217.8,817.9 1225.2,815.9 1232.3,813.9 1239.5,825.8 1246.9,827.4 1254.1,838.8 1261.5,850.2 1268.7,848.8 1275.9,854.8 1283.1,861.4 1290.5,856.8 1297.8,839.8 1305,825.8 1312.2,809.5 1319.4,806.3 1326.8,804.9 1334,803.5 1341.2,806.3 1348.6,811.5 1355.8,807.5 1363,816.9 1369.7,819.9 1377.5,801.9 1384.7,788.9 1391.9,788.3 1399.3,789.9 1405.7,795.9 1413.7,794.9 1421.1,786.9 1428.3,780.9 1435.7,783.9 1442,780.9" fill="none" stroke="#f4f4f4" stroke-width="1.25" stroke-linejoin="round"/>
<polyline points="5.6,773.9 13,792.9 20,782.9 27.4,777.9 34.6,819.9 41.9,805.9 49.1,791.9 56.5,817.9 63.9,842.8 70.9,825.8 78.3,812.9 85.5,826.8 92.7,841.8 99.9,871.8 107.8,874.8 110.8,837.8 114.4,803.9 119.8,769.9 127.8,750.9 136.2,742 143.4,744 150.8,749.6 157.8,746 165.4,756.9 172.6,761.9 179.7,776.9 187.1,762.9 194.3,758.9 201.7,768.9 208.9,784.9 216.1,788.9 223.3,775.9 230.7,774.9 237.9,762.9 245.3,758.3 252.4,767.9 259.6,787.5 267,769.9 274.2,766.3 281.6,793.9 288.8,829.8 295.6,856.2 303.2,843.8 310.4,835.8 317.8,840.8 325,833.4 332.4,834.8 339.5,846.8 346.9,870.8 354.1,868.8 361.3,875.4 365.9,837.8 370.9,799.9 375.9,772.9 383.1,757.9 390.3,745 396.9,742 404.8,764.9 412,777.9 419.2,793.9 426.6,825.8 433.8,857.8 441.2,886.2 448.4,857.8 455.8,835.8 463,829.8 468.8,806.3 476.7,801.9 484.7,808.9 491.7,777.5 499.3,807.9 506.5,837.8 513.7,869.8 521.1,875.8 528.3,882.8 535.7,878.8 542.9,878.2 550,881.4 557.4,858.8 564.6,854.8 571.8,854.8 579.2,833.8 586.4,797.5 593.6,824.8 600.8,837.8 608,818.9 615.4,816.9 622.6,851.8 629.9,867.8 637.1,829.8 644.3,801.9 651.7,791.9 658.9,784.9 664.9,783.9 673.5,801.9 680.7,829.8 687.9,849.8 693.9,872.8 701.8,866.8 708.8,809.9 716.8,789.9 724.2,775.5 731.4,793.9 737.8,813.9 745.8,807.9 753.2,800.9 760.4,775.9 767.8,762.9 774.9,766.9 782.1,785.9 789.3,790.9 796.7,773.5 803.9,776.9 811.1,761.9 818.5,758.3 825.7,782.9 832.9,804.9 840.1,804.9 847.4,840.8 854.6,853.8 861.8,867.8 869.2,867.8 876.4,861.8 883.6,817.9 890.6,785.9 898.4,771.9 905.6,799.9 912,794.9 919.4,825.8 927.3,815.9 934.5,783.9 941.9,760.9 949.1,756.9 956.9,749.6 963.7,762.9 970.9,777.9 978.3,784.9 984.9,807.9 990.9,849.8 999.8,868.8 1006.4,873.8 1014.4,856.2 1021.2,857.4 1027.8,827.8 1036.2,821.8 1042.8,801.9 1050.2,773.9 1057.4,761.9 1064.8,748.4 1071.9,754.9 1079.1,760.9 1086.3,764.3 1093.7,764.9 1100.9,776.9 1108.1,773.5 1115.5,779.5 1122.7,801.9 1130.7,827.8 1137.1,785.9 1144.4,767.9 1151.6,756.9 1158.8,765.9 1166.2,769.9 1174.6,759.9 1180.6,760.9 1187.6,777.9 1196,782.9 1203.4,787.9 1210.6,825.8 1217.8,861.8 1225.2,841.8 1232.3,830.8 1239.5,849.8 1246.9,845.8 1254.1,869.8 1261.5,884.8 1268.7,868.2 1275.9,876.8 1283.1,883.8 1290.5,867.8 1297.8,819.9 1305,797.9 1312.2,767.5 1319.4,773.9 1326.8,782.9 1334,786.9 1341.2,799.9 1348.6,810.9 1355.8,805.9 1363,826.8 1369.7,831.8 1377.5,782.9 1384.7,756.9 1391.9,766.9 1399.3,777.9 1405.7,798.9 1413.7,794.9 1421.1,777.9 1428.3,764.3 1435.7,776.9 1442,773.5" fill="none" stroke="#ff00ff" stroke-width="1.3" stroke-linejoin="round"/>
<path d="M2.1 447.6 L14.9 464 L14.9 506.2 L2.1 525.6 Z" fill="#ffffff" fill-opacity="0.23"/>
<path d="M2.1 447.6 L14.9 464 L14.9 506.2 L2.1 525.6" fill="none" stroke="#ffffff" stroke-width="1.4" stroke-opacity="0.3"/>
<path d="M3.6 479 L10.4 486 L3.6 493 Z" fill="#d08a00"/>
</svg></div>
</body></html>
